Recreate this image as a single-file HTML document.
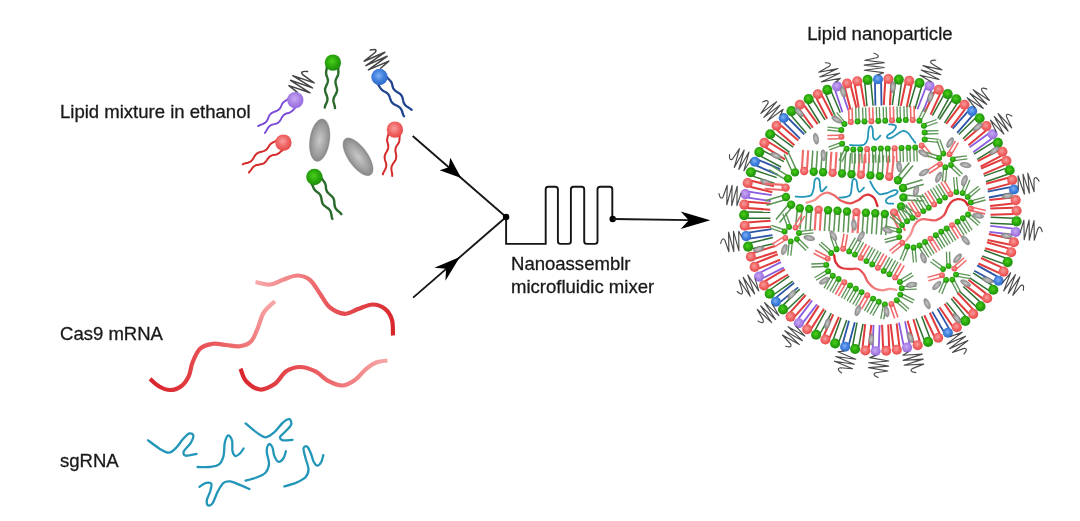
<!DOCTYPE html>
<html><head><meta charset="utf-8"><title>Lipid nanoparticle formulation</title>
<style>html,body{margin:0;padding:0;background:#fff}svg{display:block}</style></head>
<body><svg width="1080" height="521" viewBox="0 0 1080 521">
<defs>
<filter id="soft" x="0" y="0" width="100%" height="100%" filterUnits="userSpaceOnUse"><feGaussianBlur stdDeviation="0.55"/></filter>
<radialGradient id="gR" cx="45%" cy="42%" r="60%"><stop offset="0" stop-color="#f89d9d"/><stop offset="0.55" stop-color="#f06666"/><stop offset="1" stop-color="#e74747"/></radialGradient>
<radialGradient id="gG" cx="45%" cy="42%" r="60%"><stop offset="0" stop-color="#4ccf1a"/><stop offset="0.55" stop-color="#2aa80e"/><stop offset="1" stop-color="#1f8a0c"/></radialGradient>
<radialGradient id="gB" cx="45%" cy="42%" r="60%"><stop offset="0" stop-color="#7fb0f5"/><stop offset="0.55" stop-color="#3f80dd"/><stop offset="1" stop-color="#2f68c8"/></radialGradient>
<radialGradient id="gP" cx="45%" cy="42%" r="60%"><stop offset="0" stop-color="#c9aaf3"/><stop offset="0.55" stop-color="#a982e6"/><stop offset="1" stop-color="#9468dc"/></radialGradient>
<radialGradient id="gE" cx="50%" cy="50%" r="55%"><stop offset="0" stop-color="#c9c9c9"/><stop offset="0.7" stop-color="#9a9a9a"/><stop offset="1" stop-color="#7e7e7e"/></radialGradient>
<linearGradient id="m1" gradientUnits="userSpaceOnUse" x1="150" y1="380" x2="275" y2="301"><stop offset="0" stop-color="#d9262c"/><stop offset="0.5" stop-color="#ea5a5e"/><stop offset="1" stop-color="#f8a9a9"/></linearGradient>
<linearGradient id="m2" gradientUnits="userSpaceOnUse" x1="255" y1="282" x2="393" y2="330"><stop offset="0" stop-color="#f8a9a9"/><stop offset="0.5" stop-color="#ea5a5e"/><stop offset="1" stop-color="#d9262c"/></linearGradient>
<linearGradient id="m3" gradientUnits="userSpaceOnUse" x1="240" y1="370" x2="388" y2="362"><stop offset="0" stop-color="#d9262c"/><stop offset="0.5" stop-color="#ea5a5e"/><stop offset="1" stop-color="#f8a9a9"/></linearGradient>
</defs>
<g filter="url(#soft)">
<text x="60" y="117.8" font-family="Liberation Sans, Arial, sans-serif" font-size="18.55" fill="#1a1a1a" stroke="#1a1a1a" stroke-width="0.3" text-anchor="start">Lipid mixture in ethanol</text>
<text x="60" y="339.5" font-family="Liberation Sans, Arial, sans-serif" font-size="18.55" fill="#1a1a1a" stroke="#1a1a1a" stroke-width="0.3" text-anchor="start">Cas9 mRNA</text>
<text x="60" y="467.3" font-family="Liberation Sans, Arial, sans-serif" font-size="18.55" fill="#1a1a1a" stroke="#1a1a1a" stroke-width="0.3" text-anchor="start">sgRNA</text>
<text x="511" y="269.8" font-family="Liberation Sans, Arial, sans-serif" font-size="18.55" fill="#1a1a1a" stroke="#1a1a1a" stroke-width="0.3" text-anchor="start">Nanoassemblr</text>
<text x="511" y="292.8" font-family="Liberation Sans, Arial, sans-serif" font-size="18.55" fill="#1a1a1a" stroke="#1a1a1a" stroke-width="0.3" text-anchor="start">microfluidic mixer</text>
<text x="807.3" y="39.8" font-family="Liberation Sans, Arial, sans-serif" font-size="18.55" fill="#1a1a1a" stroke="#1a1a1a" stroke-width="0.3" text-anchor="start">Lipid nanoparticle</text>
<path d="M326.9,66.7 L326.8,67.7 L326.7,68.8 L326.5,69.8 L326.3,70.8 L326.1,71.8 L326.1,72.8 L326.1,73.8 L326.3,74.9 L326.6,75.9 L327.1,76.9 L327.4,78.0 L327.7,79.0 L327.9,80.0 L327.9,81.0 L327.7,82.0 L327.4,83.1 L327.0,84.1 L326.6,85.1 L326.1,86.1 L325.7,87.1 L325.3,88.1 L325.1,89.1 L325.1,90.1 L325.2,91.2 L325.4,92.2 L325.8,93.2 L326.2,94.2 L326.6,95.3 L327.0,96.3 L327.3,97.3 L327.4,98.4 L327.5,99.4 L327.3,100.4 L327.1,101.4 L326.7,102.4 L326.3,103.4 L325.8,104.4 L325.3,105.4 L325.0,106.5 L324.8,107.5" fill="none" stroke="#2a6a2c" stroke-width="2.4" stroke-linecap="round" stroke-linejoin="round" />
<path d="M338.3,67.5 L338.3,68.5 L338.3,69.5 L338.3,70.6 L338.4,71.6 L338.4,72.6 L338.3,73.6 L338.1,74.6 L337.8,75.6 L337.3,76.6 L336.8,77.6 L336.3,78.5 L335.9,79.5 L335.6,80.5 L335.5,81.5 L335.5,82.5 L335.6,83.6 L335.9,84.6 L336.2,85.7 L336.5,86.8 L336.8,87.8 L337.0,88.9 L337.1,89.9 L337.0,90.9 L336.8,91.9 L336.4,92.9 L335.9,93.9 L335.4,94.8 L334.8,95.8 L334.3,96.8 L333.9,97.8 L333.6,98.7 L333.4,99.8 L333.4,100.8 L333.5,101.8 L333.8,102.9 L334.1,103.9 L334.4,105.0 L334.7,106.1 L334.9,107.1 L335.0,108.1" fill="none" stroke="#2a6a2c" stroke-width="2.4" stroke-linecap="round" stroke-linejoin="round" />
<circle cx="332.9" cy="62.6" r="8.2" fill="url(#gG)"/>
<path d="M288.1,98.7 L287.4,99.4 L286.6,100.0 L285.7,100.6 L284.9,101.2 L284.0,101.8 L283.3,102.5 L282.6,103.2 L282.0,104.1 L281.6,105.1 L281.1,106.1 L280.7,107.1 L280.2,108.0 L279.5,108.8 L278.8,109.5 L278.0,110.2 L277.1,110.7 L276.1,111.1 L275.1,111.5 L274.0,111.9 L273.0,112.3 L272.1,112.8 L271.2,113.4 L270.5,114.1 L269.8,114.8 L269.3,115.7 L268.8,116.7 L268.4,117.7 L268.0,118.8 L267.5,119.7 L267.0,120.7 L266.4,121.5 L265.7,122.3 L264.9,122.9 L264.0,123.4 L263.1,123.9 L262.0,124.3 L261.0,124.7 L260.0,125.1 L259.0,125.6 L258.1,126.1" fill="none" stroke="#7a48d6" stroke-width="1.9" stroke-linecap="round" stroke-linejoin="round" />
<path d="M295.7,107.4 L294.9,108.0 L294.2,108.8 L293.5,109.5 L292.8,110.3 L292.1,111.0 L291.3,111.6 L290.5,112.2 L289.6,112.6 L288.6,113.0 L287.5,113.2 L286.5,113.5 L285.5,113.9 L284.6,114.4 L283.8,115.0 L283.1,115.7 L282.5,116.5 L281.9,117.4 L281.4,118.4 L280.8,119.4 L280.3,120.3 L279.7,121.2 L279.0,121.9 L278.3,122.6 L277.4,123.1 L276.4,123.5 L275.4,123.8 L274.4,124.1 L273.3,124.4 L272.3,124.7 L271.3,125.0 L270.4,125.5 L269.5,126.1 L268.8,126.8 L268.2,127.6 L267.6,128.5 L267.1,129.4 L266.5,130.4 L266.0,131.3 L265.4,132.2 L264.8,133.0" fill="none" stroke="#7a48d6" stroke-width="1.9" stroke-linecap="round" stroke-linejoin="round" />
<path d="M297.4,92.4 L288.9,85.6 L310.0,92.8 L290.5,80.3 L312.4,87.9 L292.8,75.6 L314.1,82.9 L302.7,74.7 Q299.4,70.5 307.6,71.6" fill="none" stroke="#444" stroke-width="1.5" stroke-linecap="round" stroke-linejoin="round"/>
<circle cx="295.3" cy="100.1" r="8.2" fill="url(#gP)"/>
<path d="M377.8,84.1 L378.4,84.9 L379.0,85.8 L379.5,86.7 L380.1,87.6 L380.7,88.4 L381.3,89.2 L382.1,90.0 L382.9,90.6 L383.8,91.2 L384.9,91.7 L385.8,92.2 L386.7,92.8 L387.5,93.4 L388.2,94.2 L388.8,95.1 L389.3,96.0 L389.7,97.1 L390.0,98.1 L390.4,99.2 L390.8,100.2 L391.2,101.2 L391.7,102.1 L392.4,102.9 L393.2,103.6 L394.0,104.3 L395.0,104.8 L396.0,105.3 L397.0,105.8 L398.0,106.3 L398.9,106.9 L399.7,107.5 L400.5,108.3 L401.1,109.1 L401.5,110.1 L402.0,111.1 L402.3,112.2 L402.7,113.2 L403.0,114.3 L403.4,115.3 L404.0,116.2" fill="none" stroke="#23458f" stroke-width="2.3" stroke-linecap="round" stroke-linejoin="round" />
<path d="M386.8,77.0 L387.4,77.8 L388.1,78.6 L388.9,79.3 L389.6,80.1 L390.3,80.8 L390.9,81.6 L391.5,82.5 L391.9,83.5 L392.2,84.5 L392.4,85.6 L392.7,86.7 L393.0,87.7 L393.5,88.7 L394.1,89.5 L394.8,90.3 L395.6,91.0 L396.5,91.6 L397.4,92.2 L398.4,92.8 L399.3,93.4 L400.2,94.0 L400.9,94.8 L401.5,95.6 L402.0,96.5 L402.4,97.5 L402.7,98.5 L403.0,99.6 L403.2,100.7 L403.5,101.8 L403.8,102.8 L404.2,103.8 L404.8,104.6 L405.5,105.4 L406.3,106.1 L407.1,106.7 L408.1,107.3 L409.0,107.9 L410.0,108.5 L410.8,109.2 L411.6,109.9" fill="none" stroke="#23458f" stroke-width="2.3" stroke-linecap="round" stroke-linejoin="round" />
<path d="M380.7,68.2 L388.8,61.1 L368.4,69.9 L387.1,56.3 L365.9,65.6 L384.8,52.3 L364.2,61.2 L375.1,52.5 Q378.2,48.2 370.2,50.1" fill="none" stroke="#444" stroke-width="1.5" stroke-linecap="round" stroke-linejoin="round"/>
<circle cx="379.5" cy="77.0" r="8.2" fill="url(#gB)"/>
<path d="M276.4,140.4 L275.6,141.0 L274.7,141.5 L273.8,142.0 L272.8,142.5 L271.9,143.0 L271.1,143.6 L270.3,144.3 L269.6,145.1 L269.0,146.0 L268.4,147.0 L267.8,147.9 L267.2,148.8 L266.5,149.5 L265.6,150.2 L264.7,150.7 L263.8,151.1 L262.7,151.4 L261.6,151.7 L260.5,151.9 L259.5,152.2 L258.4,152.6 L257.5,153.1 L256.7,153.7 L255.9,154.4 L255.2,155.2 L254.6,156.1 L254.1,157.1 L253.5,158.1 L252.9,159.0 L252.3,159.9 L251.6,160.7 L250.8,161.4 L249.9,161.9 L248.9,162.3 L247.9,162.7 L246.8,162.9 L245.7,163.2 L244.6,163.5 L243.6,163.9 L242.7,164.3" fill="none" stroke="#d42a2a" stroke-width="2.0" stroke-linecap="round" stroke-linejoin="round" />
<path d="M282.9,149.9 L282.1,150.5 L281.3,151.1 L280.5,151.8 L279.7,152.5 L278.9,153.1 L278.1,153.7 L277.2,154.2 L276.2,154.5 L275.1,154.8 L274.0,154.9 L273.0,155.1 L271.9,155.4 L271.0,155.8 L270.1,156.3 L269.3,157.0 L268.6,157.7 L267.9,158.6 L267.3,159.5 L266.6,160.4 L266.0,161.3 L265.3,162.1 L264.5,162.8 L263.6,163.4 L262.7,163.8 L261.7,164.1 L260.6,164.3 L259.5,164.5 L258.4,164.7 L257.4,164.9 L256.3,165.1 L255.4,165.5 L254.5,166.0 L253.6,166.6 L252.9,167.4 L252.2,168.2 L251.6,169.1 L251.0,170.0 L250.3,170.9 L249.6,171.7 L248.9,172.5" fill="none" stroke="#d42a2a" stroke-width="2.0" stroke-linecap="round" stroke-linejoin="round" />
<circle cx="283.4" cy="142.6" r="8.2" fill="url(#gR)"/>
<path d="M388.5,133.1 L388.4,134.2 L388.1,135.2 L387.8,136.2 L387.6,137.2 L387.3,138.2 L387.2,139.3 L387.1,140.3 L387.2,141.4 L387.5,142.4 L387.8,143.5 L388.1,144.6 L388.2,145.7 L388.3,146.7 L388.2,147.7 L388.0,148.8 L387.6,149.8 L387.1,150.8 L386.6,151.8 L386.0,152.7 L385.5,153.7 L385.1,154.7 L384.8,155.7 L384.6,156.8 L384.6,157.8 L384.8,158.9 L385.0,160.0 L385.3,161.0 L385.7,162.1 L386.0,163.2 L386.2,164.3 L386.3,165.3 L386.2,166.4 L386.0,167.4 L385.6,168.4 L385.2,169.4 L384.6,170.4 L384.1,171.4 L383.5,172.4 L383.1,173.4 L382.8,174.4" fill="none" stroke="#d42a2a" stroke-width="2.0" stroke-linecap="round" stroke-linejoin="round" />
<path d="M399.8,135.0 L399.7,136.0 L399.6,137.0 L399.5,138.1 L399.5,139.1 L399.4,140.2 L399.2,141.2 L398.9,142.2 L398.4,143.2 L397.9,144.1 L397.2,145.0 L396.6,146.0 L396.1,146.9 L395.7,147.9 L395.5,148.9 L395.4,150.0 L395.4,151.0 L395.6,152.1 L395.8,153.2 L396.0,154.3 L396.2,155.4 L396.2,156.5 L396.2,157.6 L396.0,158.6 L395.7,159.6 L395.2,160.6 L394.6,161.5 L394.0,162.4 L393.3,163.3 L392.7,164.3 L392.2,165.2 L391.8,166.2 L391.5,167.2 L391.4,168.2 L391.4,169.3 L391.5,170.4 L391.7,171.5 L391.9,172.6 L392.1,173.7 L392.2,174.8 L392.2,175.9" fill="none" stroke="#d42a2a" stroke-width="2.0" stroke-linecap="round" stroke-linejoin="round" />
<circle cx="394.9" cy="129.6" r="8.2" fill="url(#gR)"/>
<path d="M311.6,183.8 L312.1,184.6 L312.6,185.6 L313.0,186.5 L313.4,187.5 L313.8,188.4 L314.3,189.3 L314.9,190.1 L315.7,190.9 L316.5,191.5 L317.4,192.2 L318.3,192.8 L319.1,193.5 L319.8,194.3 L320.3,195.1 L320.8,196.1 L321.1,197.1 L321.3,198.1 L321.5,199.2 L321.7,200.3 L321.9,201.4 L322.2,202.4 L322.5,203.4 L323.1,204.3 L323.7,205.1 L324.5,205.8 L325.3,206.4 L326.2,207.1 L327.1,207.7 L328.0,208.3 L328.8,209.0 L329.6,209.8 L330.1,210.6 L330.6,211.5 L330.9,212.5 L331.2,213.6 L331.4,214.7 L331.5,215.8 L331.7,216.8 L332.0,217.9 L332.4,218.9" fill="none" stroke="#2a6a2c" stroke-width="2.4" stroke-linecap="round" stroke-linejoin="round" />
<path d="M321.6,178.1 L322.1,179.0 L322.7,179.8 L323.3,180.7 L323.9,181.5 L324.5,182.4 L325.0,183.3 L325.4,184.2 L325.7,185.3 L325.9,186.3 L325.9,187.4 L326.0,188.5 L326.2,189.6 L326.6,190.6 L327.0,191.5 L327.6,192.4 L328.3,193.2 L329.1,193.9 L330.0,194.6 L330.8,195.4 L331.6,196.1 L332.4,196.9 L333.0,197.7 L333.5,198.6 L333.9,199.6 L334.1,200.6 L334.3,201.7 L334.3,202.8 L334.4,203.9 L334.5,205.0 L334.7,206.1 L335.0,207.1 L335.4,208.0 L336.0,208.9 L336.7,209.7 L337.4,210.5 L338.3,211.2 L339.2,211.9 L340.0,212.6 L340.7,213.4 L341.4,214.2" fill="none" stroke="#2a6a2c" stroke-width="2.4" stroke-linecap="round" stroke-linejoin="round" />
<circle cx="314.4" cy="177.0" r="8.2" fill="url(#gG)"/>
<ellipse cx="0" cy="0" rx="9.8" ry="21.3" fill="url(#gE)" stroke="#858585" stroke-width="0.5" transform="translate(319.7,140.2) rotate(8.0)"/>
<ellipse cx="0" cy="0" rx="9.6" ry="22.0" fill="url(#gE)" stroke="#858585" stroke-width="0.5" transform="translate(358.0,156.8) rotate(-35.5)"/>
<line x1="412.7" y1="136" x2="506.1" y2="217" stroke="#141414" stroke-width="1.85"/>
<line x1="413.1" y1="297.6" x2="506.1" y2="217" stroke="#141414" stroke-width="1.85"/>
<polygon points="461.2,178.1 439.6,170.2 448.7,167.3 450.3,157.8" fill="#000"/>
<polygon points="459.9,256.9 445.4,280.7 446.1,268.8 434.3,267.8" fill="#000"/>
<path d="M506.1,217 L506.1,243.9 L545.7,243.9 L545.7,189.4 Q545.7,186.8 548.3000000000001,186.8 L555.3,186.8 Q557.9,186.8 557.9,189.4 L557.9,241.3 Q557.9,243.9 560.5,243.9 L568.3,243.9 Q570.9,243.9 570.9,241.3 L570.9,189.4 Q570.9,186.8 573.5,186.8 L581.6,186.8 Q584.2,186.8 584.2,189.4 L584.2,241.3 Q584.2,243.9 586.8000000000001,243.9 L594.9,243.9 Q597.5,243.9 597.5,241.3 L597.5,189.4 Q597.5,186.8 600.1,186.8 L609.6999999999999,186.8 Q612.3,186.8 612.3,189.4 L612.3,219" fill="none" stroke="#141414" stroke-width="1.9" stroke-linejoin="miter"/>
<circle cx="506.1" cy="217" r="3.2" fill="#000"/>
<circle cx="612.7" cy="219" r="3.2" fill="#000"/>
<line x1="612.7" y1="219" x2="690" y2="220.2" stroke="#141414" stroke-width="1.85"/>
<polygon points="710.3,220.2 680.7,228.9 688.8,220.2 680.7,211.5" fill="#000"/>
<path d="M150.0,378.8 C151.5,380.0 155.4,384.4 158.8,386.2 C162.1,388.1 166.2,390.0 170.0,390.0 C173.8,390.0 178.1,388.5 181.2,386.2 C184.4,384.0 186.9,380.2 188.8,376.2 C190.6,372.3 190.6,367.1 192.5,362.5 C194.4,357.9 196.7,351.9 200.0,348.8 C203.3,345.6 208.1,344.4 212.5,343.8 C216.9,343.1 221.7,344.6 226.2,345.0 C230.8,345.4 235.8,346.9 240.0,346.2 C244.2,345.6 248.3,344.2 251.2,341.2 C254.2,338.3 255.4,333.5 257.5,328.8 C259.6,324.0 260.8,317.1 263.8,312.5 C266.7,307.9 273.1,303.1 275.0,301.2 " fill="none" stroke="url(#m1)" stroke-width="4.2" stroke-linecap="butt"/>
<path d="M255.5,282.0 C257.9,282.4 265.3,284.9 270.0,284.5 C274.7,284.1 279.2,281.0 283.8,279.5 C288.3,278.0 293.1,275.4 297.5,275.5 C301.9,275.6 306.2,277.0 310.0,280.0 C313.8,283.0 316.7,289.2 320.0,293.8 C323.3,298.3 325.8,304.2 330.0,307.5 C334.2,310.8 340.2,313.5 345.0,313.8 C349.8,314.0 354.2,310.3 358.8,308.8 C363.3,307.2 368.1,304.5 372.5,304.5 C376.9,304.5 381.8,306.2 385.0,308.8 C388.2,311.3 390.7,315.5 392.0,320.0 C393.3,324.5 392.8,332.9 393.0,335.5 " fill="none" stroke="url(#m2)" stroke-width="4.2" stroke-linecap="butt"/>
<path d="M240.5,368.8 C241.5,370.8 243.0,377.8 246.2,381.2 C249.5,384.7 255.2,389.1 260.0,389.5 C264.8,389.9 270.6,386.8 275.0,383.8 C279.4,380.7 282.1,374.0 286.2,371.2 C290.4,368.5 295.2,367.0 300.0,367.0 C304.8,367.0 310.2,368.9 315.0,371.2 C319.8,373.6 324.2,378.9 328.8,381.2 C333.3,383.6 338.1,385.7 342.5,385.5 C346.9,385.3 351.0,382.8 355.0,380.0 C359.0,377.2 362.7,371.7 366.2,368.8 C369.8,365.8 372.7,363.9 376.2,362.5 C379.8,361.1 385.6,360.8 387.5,360.5 " fill="none" stroke="url(#m3)" stroke-width="4.2" stroke-linecap="butt"/>
<path d="M148.1,440.3 C149.9,441.7 155.7,446.3 159.2,448.4 C162.6,450.4 165.9,452.8 168.8,452.6 C171.7,452.5 174.1,449.7 176.5,447.4 C178.9,445.1 181.0,441.1 183.2,438.8 C185.4,436.5 187.8,433.9 189.5,433.4 C191.2,432.9 193.2,434.2 193.4,435.9 C193.5,437.6 191.9,441.0 190.3,443.6 C188.7,446.1 184.5,449.3 183.8,451.3 C183.0,453.3 183.5,455.3 185.7,455.7 C187.8,456.1 194.8,454.1 196.6,453.8 " fill="none" stroke="#2396b8" stroke-width="2.3" stroke-linecap="round"/>
<path d="M197.6,467.0 C199.5,467.0 205.6,467.4 209.1,467.0 C212.6,466.6 216.3,466.5 218.7,464.7 C221.1,462.9 222.5,459.7 223.5,456.1 C224.5,452.4 224.0,446.1 224.8,442.6 C225.6,439.2 227.1,435.7 228.3,435.3 C229.5,435.0 231.4,438.1 232.1,440.7 C232.8,443.4 231.9,448.7 232.5,451.3 C233.1,453.8 234.3,455.7 235.6,456.1 C236.9,456.4 238.8,454.5 240.2,453.2 C241.5,451.9 243.1,449.2 243.6,448.4 " fill="none" stroke="#2396b8" stroke-width="2.3" stroke-linecap="round"/>
<path d="M245.6,423.4 C247.3,424.9 252.8,429.8 256.1,432.1 C259.5,434.4 262.7,437.3 265.7,437.3 C268.8,437.3 271.5,434.5 274.4,432.1 C277.2,429.6 280.5,424.6 283.0,422.5 C285.5,420.3 288.0,418.9 289.3,419.2 C290.7,419.5 291.8,422.4 291.2,424.4 C290.7,426.4 287.7,429.0 285.9,431.1 C284.0,433.2 280.6,435.3 280.1,436.9 C279.6,438.4 280.9,439.8 283.0,440.3 C285.1,440.8 291.0,439.8 292.6,439.8 " fill="none" stroke="#2396b8" stroke-width="2.3" stroke-linecap="round"/>
<path d="M245.6,480.6 C247.5,480.1 253.7,478.6 257.1,477.2 C260.4,475.8 263.7,474.6 265.7,472.4 C267.7,470.1 268.8,467.3 269.0,463.7 C269.1,460.2 266.7,454.5 266.7,451.3 C266.7,448.0 268.0,444.8 269.0,444.2 C269.9,443.5 271.5,445.4 272.4,447.4 C273.3,449.4 273.3,453.7 274.4,456.1 C275.4,458.5 277.0,461.5 278.6,461.8 C280.1,462.1 282.4,459.7 283.6,458.0 C284.8,456.2 285.5,452.4 285.9,451.3 " fill="none" stroke="#2396b8" stroke-width="2.3" stroke-linecap="round"/>
<path d="M284.3,486.4 C286.4,485.8 292.9,484.1 296.4,482.6 C299.9,481.0 303.4,479.4 305.5,477.2 C307.5,475.0 308.5,472.7 308.5,469.5 C308.5,466.3 306.3,461.5 305.5,458.0 C304.6,454.5 303.3,450.3 303.5,448.4 C303.8,446.5 305.8,445.7 307.0,446.5 C308.2,447.3 309.7,450.6 310.8,453.2 C311.9,455.7 312.6,459.7 313.7,461.8 C314.8,463.9 316.3,465.7 317.5,465.7 C318.8,465.7 320.4,463.6 321.4,461.8 C322.3,460.1 323.0,456.2 323.3,455.1 " fill="none" stroke="#2396b8" stroke-width="2.3" stroke-linecap="round"/>
<path d="M199.5,486.8 C200.6,486.1 204.2,483.4 206.2,482.9 C208.2,482.5 210.8,482.5 211.4,483.9 C212.0,485.3 210.8,488.9 210.1,491.6 C209.3,494.3 207.1,497.9 206.8,500.2 C206.5,502.5 207.2,504.9 208.1,505.4 C209.1,505.9 211.0,505.4 212.6,503.1 C214.2,500.8 215.9,494.9 217.7,491.6 C219.6,488.2 221.4,484.6 223.5,482.9 C225.6,481.2 227.5,481.1 230.2,481.4 C232.9,481.7 236.6,483.6 239.8,484.9 C243.0,486.1 247.8,488.4 249.4,489.1 " fill="none" stroke="#2396b8" stroke-width="2.3" stroke-linecap="round"/>
<line x1="881.1" y1="82.3" x2="881.5" y2="105.5" stroke="#2c55a8" stroke-width="1.80"/>
<line x1="875.0" y1="82.4" x2="875.4" y2="105.6" stroke="#2c55a8" stroke-width="1.80"/>
<circle cx="878.0" cy="79.3" r="5.05" fill="url(#gB)"/>
<path d="M877.9,74.9 L883.6,72.6 L864.3,70.3 L884.3,67.5 L864.2,65.1 L884.2,62.6 L864.8,60.2 L876.7,57.8 Q880.9,55.5 874.0,53.2" fill="none" stroke="#4a4a4a" stroke-width="1.15" stroke-linecap="round" stroke-linejoin="round"/>
<line x1="891.3" y1="82.2" x2="889.9" y2="105.4" stroke="#e23b3b" stroke-width="2.00"/>
<line x1="885.2" y1="81.9" x2="883.8" y2="105.0" stroke="#e23b3b" stroke-width="2.00"/>
<circle cx="888.4" cy="79.0" r="5.05" fill="url(#gR)"/>
<line x1="901.4" y1="83.0" x2="898.3" y2="105.9" stroke="#2f7030" stroke-width="1.50"/>
<line x1="895.4" y1="82.2" x2="892.3" y2="105.1" stroke="#2f7030" stroke-width="1.50"/>
<circle cx="898.8" cy="79.6" r="5.05" fill="url(#gG)"/>
<line x1="911.6" y1="84.5" x2="906.7" y2="107.1" stroke="#e23b3b" stroke-width="2.00"/>
<line x1="905.6" y1="83.2" x2="900.8" y2="105.9" stroke="#e23b3b" stroke-width="2.00"/>
<circle cx="909.2" cy="80.9" r="5.05" fill="url(#gR)"/>
<line x1="921.6" y1="86.8" x2="915.0" y2="109.0" stroke="#2f7030" stroke-width="1.50"/>
<line x1="915.7" y1="85.0" x2="909.2" y2="107.3" stroke="#2f7030" stroke-width="1.50"/>
<circle cx="919.5" cy="83.0" r="5.05" fill="url(#gG)"/>
<line x1="931.4" y1="89.8" x2="923.2" y2="111.5" stroke="#8a5be0" stroke-width="1.80"/>
<line x1="925.7" y1="87.7" x2="917.5" y2="109.3" stroke="#8a5be0" stroke-width="1.80"/>
<circle cx="929.6" cy="85.9" r="5.05" fill="url(#gP)"/>
<path d="M931.2,81.8 L920.1,75.2 L939.0,79.5 L921.2,70.1 L940.9,74.7 L922.9,65.6 L942.0,69.9 L931.6,63.6 Q928.4,60.0 935.7,60.2" fill="none" stroke="#4a4a4a" stroke-width="1.15" stroke-linecap="round" stroke-linejoin="round"/>
<line x1="940.3" y1="93.7" x2="930.6" y2="114.7" stroke="#e23b3b" stroke-width="2.00"/>
<line x1="934.8" y1="91.2" x2="925.0" y2="112.2" stroke="#e23b3b" stroke-width="2.00"/>
<circle cx="938.8" cy="89.7" r="5.05" fill="url(#gR)"/>
<line x1="948.9" y1="98.2" x2="937.7" y2="118.5" stroke="#2f7030" stroke-width="1.50"/>
<line x1="943.6" y1="95.3" x2="932.4" y2="115.6" stroke="#2f7030" stroke-width="1.50"/>
<circle cx="947.7" cy="94.1" r="5.05" fill="url(#gG)"/>
<line x1="957.2" y1="103.4" x2="944.5" y2="122.8" stroke="#2f7030" stroke-width="1.50"/>
<line x1="952.1" y1="100.0" x2="939.4" y2="119.5" stroke="#2f7030" stroke-width="1.50"/>
<circle cx="956.3" cy="99.2" r="5.05" fill="url(#gG)"/>
<line x1="965.1" y1="109.1" x2="951.1" y2="127.6" stroke="#e23b3b" stroke-width="2.00"/>
<line x1="960.2" y1="105.4" x2="946.2" y2="123.9" stroke="#e23b3b" stroke-width="2.00"/>
<circle cx="964.5" cy="104.8" r="5.05" fill="url(#gR)"/>
<line x1="972.5" y1="115.4" x2="957.2" y2="132.8" stroke="#2c55a8" stroke-width="1.80"/>
<line x1="967.9" y1="111.3" x2="952.7" y2="128.7" stroke="#2c55a8" stroke-width="1.80"/>
<circle cx="972.2" cy="111.1" r="5.05" fill="url(#gB)"/>
<path d="M975.1,107.8 L967.1,97.7 L983.3,108.4 L969.9,93.3 L986.7,104.5 L973.1,89.7 L989.4,100.4 L981.9,90.9 Q980.2,86.4 986.9,89.1" fill="none" stroke="#4a4a4a" stroke-width="1.15" stroke-linecap="round" stroke-linejoin="round"/>
<line x1="979.6" y1="122.6" x2="963.0" y2="138.8" stroke="#2f7030" stroke-width="1.50"/>
<line x1="975.3" y1="118.3" x2="958.8" y2="134.5" stroke="#2f7030" stroke-width="1.50"/>
<circle cx="979.6" cy="118.3" r="5.05" fill="url(#gG)"/>
<line x1="986.1" y1="130.4" x2="968.4" y2="145.3" stroke="#e23b3b" stroke-width="2.00"/>
<line x1="982.1" y1="125.7" x2="964.4" y2="140.7" stroke="#e23b3b" stroke-width="2.00"/>
<circle cx="986.4" cy="126.1" r="5.05" fill="url(#gR)"/>
<line x1="991.9" y1="138.6" x2="973.2" y2="152.2" stroke="#8a5be0" stroke-width="1.80"/>
<line x1="988.4" y1="133.7" x2="969.6" y2="147.2" stroke="#8a5be0" stroke-width="1.80"/>
<circle cx="992.6" cy="134.3" r="5.05" fill="url(#gP)"/>
<path d="M996.2,131.8 L990.5,120.2 L1004.0,134.2 L994.2,116.5 L1008.1,131.1 L998.2,113.6 L1011.7,127.8 L1006.5,116.8 Q1005.8,112.1 1011.8,116.1" fill="none" stroke="#4a4a4a" stroke-width="1.15" stroke-linecap="round" stroke-linejoin="round"/>
<line x1="996.9" y1="147.1" x2="977.2" y2="159.3" stroke="#2f7030" stroke-width="1.50"/>
<line x1="993.7" y1="141.9" x2="974.0" y2="154.1" stroke="#2f7030" stroke-width="1.50"/>
<circle cx="997.8" cy="142.9" r="5.05" fill="url(#gG)"/>
<line x1="1001.2" y1="155.9" x2="980.6" y2="166.6" stroke="#e23b3b" stroke-width="2.00"/>
<line x1="998.3" y1="150.5" x2="977.8" y2="161.2" stroke="#e23b3b" stroke-width="2.00"/>
<circle cx="1002.4" cy="151.8" r="5.05" fill="url(#gR)"/>
<line x1="1004.8" y1="164.9" x2="983.5" y2="174.1" stroke="#e23b3b" stroke-width="2.00"/>
<line x1="1002.4" y1="159.3" x2="981.1" y2="168.5" stroke="#e23b3b" stroke-width="2.00"/>
<circle cx="1006.4" cy="160.9" r="5.05" fill="url(#gR)"/>
<line x1="1007.8" y1="174.2" x2="985.9" y2="181.8" stroke="#2f7030" stroke-width="1.50"/>
<line x1="1005.7" y1="168.4" x2="983.9" y2="176.1" stroke="#2f7030" stroke-width="1.50"/>
<circle cx="1009.6" cy="170.3" r="5.05" fill="url(#gG)"/>
<line x1="1010.0" y1="183.6" x2="987.7" y2="189.6" stroke="#e23b3b" stroke-width="2.00"/>
<line x1="1008.4" y1="177.7" x2="986.1" y2="183.8" stroke="#e23b3b" stroke-width="2.00"/>
<circle cx="1012.2" cy="179.9" r="5.05" fill="url(#gR)"/>
<line x1="1011.6" y1="193.1" x2="988.9" y2="197.5" stroke="#2c55a8" stroke-width="1.80"/>
<line x1="1010.4" y1="187.1" x2="987.7" y2="191.6" stroke="#2c55a8" stroke-width="1.80"/>
<circle cx="1014.0" cy="189.5" r="5.05" fill="url(#gB)"/>
<path d="M1018.3,188.7 L1018.1,175.8 L1024.4,194.2 L1023.0,174.1 L1029.4,193.2 L1027.8,173.1 L1034.1,191.7 L1034.0,179.5 Q1035.4,174.9 1039.1,181.1" fill="none" stroke="#4a4a4a" stroke-width="1.15" stroke-linecap="round" stroke-linejoin="round"/>
<line x1="1013.0" y1="203.4" x2="990.0" y2="206.1" stroke="#e23b3b" stroke-width="2.00"/>
<line x1="1012.3" y1="197.4" x2="989.3" y2="200.0" stroke="#e23b3b" stroke-width="2.00"/>
<circle cx="1015.7" cy="200.1" r="5.05" fill="url(#gR)"/>
<line x1="1013.6" y1="213.9" x2="990.5" y2="214.7" stroke="#e23b3b" stroke-width="2.00"/>
<line x1="1013.4" y1="207.8" x2="990.3" y2="208.6" stroke="#e23b3b" stroke-width="2.00"/>
<circle cx="1016.6" cy="210.7" r="5.05" fill="url(#gR)"/>
<line x1="1013.4" y1="224.3" x2="990.3" y2="223.3" stroke="#2f7030" stroke-width="1.50"/>
<line x1="1013.7" y1="218.2" x2="990.6" y2="217.2" stroke="#2f7030" stroke-width="1.50"/>
<circle cx="1016.6" cy="221.4" r="5.05" fill="url(#gG)"/>
<line x1="1012.4" y1="234.7" x2="989.4" y2="231.9" stroke="#8a5be0" stroke-width="1.80"/>
<line x1="1013.2" y1="228.6" x2="990.2" y2="225.8" stroke="#8a5be0" stroke-width="1.80"/>
<circle cx="1015.8" cy="232.0" r="5.05" fill="url(#gP)"/>
<path d="M1020.2,232.5 L1023.9,220.2 L1024.2,239.6 L1029.1,220.0 L1029.3,240.2 L1034.0,220.6 L1034.3,240.2 L1037.9,228.6 Q1040.6,224.7 1042.2,231.7" fill="none" stroke="#4a4a4a" stroke-width="1.15" stroke-linecap="round" stroke-linejoin="round"/>
<line x1="1010.3" y1="244.7" x2="987.6" y2="240.1" stroke="#e23b3b" stroke-width="2.00"/>
<line x1="1011.5" y1="238.7" x2="988.8" y2="234.1" stroke="#e23b3b" stroke-width="2.00"/>
<circle cx="1013.9" cy="242.3" r="5.05" fill="url(#gR)"/>
<line x1="1007.4" y1="254.4" x2="985.1" y2="248.2" stroke="#e23b3b" stroke-width="2.00"/>
<line x1="1009.1" y1="248.6" x2="986.8" y2="242.3" stroke="#e23b3b" stroke-width="2.00"/>
<circle cx="1011.2" cy="252.3" r="5.05" fill="url(#gR)"/>
<line x1="1003.9" y1="263.9" x2="982.1" y2="256.0" stroke="#2f7030" stroke-width="1.50"/>
<line x1="1006.0" y1="258.2" x2="984.2" y2="250.2" stroke="#2f7030" stroke-width="1.50"/>
<circle cx="1007.7" cy="262.1" r="5.05" fill="url(#gG)"/>
<line x1="999.5" y1="273.1" x2="978.5" y2="263.5" stroke="#e23b3b" stroke-width="2.00"/>
<line x1="1002.1" y1="267.6" x2="981.0" y2="258.0" stroke="#e23b3b" stroke-width="2.00"/>
<circle cx="1003.6" cy="271.6" r="5.05" fill="url(#gR)"/>
<line x1="994.6" y1="281.9" x2="974.3" y2="270.8" stroke="#2c55a8" stroke-width="1.80"/>
<line x1="997.5" y1="276.6" x2="977.2" y2="265.4" stroke="#2c55a8" stroke-width="1.80"/>
<circle cx="998.7" cy="280.7" r="5.05" fill="url(#gB)"/>
<path d="M1002.5,282.9 L1010.6,272.8 L1003.7,290.9 L1015.5,274.6 L1008.2,293.4 L1019.8,277.0 L1012.8,295.3 L1020.5,285.8 Q1024.5,283.2 1023.3,290.3" fill="none" stroke="#4a4a4a" stroke-width="1.15" stroke-linecap="round" stroke-linejoin="round"/>
<line x1="989.1" y1="290.6" x2="969.7" y2="277.9" stroke="#2f7030" stroke-width="1.50"/>
<line x1="992.4" y1="285.5" x2="973.1" y2="272.8" stroke="#2f7030" stroke-width="1.50"/>
<circle cx="993.3" cy="289.8" r="5.05" fill="url(#gG)"/>
<line x1="983.0" y1="298.9" x2="964.6" y2="284.7" stroke="#e23b3b" stroke-width="2.00"/>
<line x1="986.7" y1="294.1" x2="968.4" y2="279.8" stroke="#e23b3b" stroke-width="2.00"/>
<circle cx="987.2" cy="298.3" r="5.05" fill="url(#gR)"/>
<line x1="976.2" y1="306.6" x2="959.1" y2="291.0" stroke="#2f7030" stroke-width="1.50"/>
<line x1="980.3" y1="302.1" x2="963.2" y2="286.5" stroke="#2f7030" stroke-width="1.50"/>
<circle cx="980.5" cy="306.4" r="5.05" fill="url(#gG)"/>
<line x1="968.9" y1="313.8" x2="953.0" y2="296.9" stroke="#e23b3b" stroke-width="2.00"/>
<line x1="973.3" y1="309.6" x2="957.4" y2="292.8" stroke="#e23b3b" stroke-width="2.00"/>
<circle cx="973.2" cy="313.9" r="5.05" fill="url(#gR)"/>
<line x1="961.0" y1="320.4" x2="946.5" y2="302.4" stroke="#2f7030" stroke-width="1.50"/>
<line x1="965.7" y1="316.6" x2="951.2" y2="298.5" stroke="#2f7030" stroke-width="1.50"/>
<circle cx="965.3" cy="320.9" r="5.05" fill="url(#gG)"/>
<line x1="952.6" y1="326.4" x2="939.5" y2="307.3" stroke="#e23b3b" stroke-width="2.00"/>
<line x1="957.6" y1="322.9" x2="944.6" y2="303.8" stroke="#e23b3b" stroke-width="2.00"/>
<circle cx="956.8" cy="327.2" r="5.05" fill="url(#gR)"/>
<line x1="943.8" y1="331.7" x2="932.2" y2="311.6" stroke="#2c55a8" stroke-width="1.80"/>
<line x1="949.1" y1="328.6" x2="937.5" y2="308.6" stroke="#2c55a8" stroke-width="1.80"/>
<circle cx="947.9" cy="332.8" r="5.05" fill="url(#gB)"/>
<path d="M950.1,336.6 L962.2,332.2 L946.9,344.1 L965.5,336.2 L949.5,348.6 L967.9,340.5 L952.5,352.5 L964.0,348.4 Q968.7,348.2 964.0,353.8" fill="none" stroke="#4a4a4a" stroke-width="1.15" stroke-linecap="round" stroke-linejoin="round"/>
<line x1="934.2" y1="336.3" x2="924.3" y2="315.3" stroke="#e23b3b" stroke-width="2.00"/>
<line x1="939.7" y1="333.7" x2="929.8" y2="312.7" stroke="#e23b3b" stroke-width="2.00"/>
<circle cx="938.2" cy="337.7" r="5.05" fill="url(#gR)"/>
<line x1="924.2" y1="340.1" x2="916.0" y2="318.4" stroke="#2f7030" stroke-width="1.50"/>
<line x1="929.9" y1="338.0" x2="921.7" y2="316.3" stroke="#2f7030" stroke-width="1.50"/>
<circle cx="928.1" cy="341.9" r="5.05" fill="url(#gG)"/>
<line x1="914.0" y1="343.1" x2="907.6" y2="320.8" stroke="#e23b3b" stroke-width="2.00"/>
<line x1="919.8" y1="341.4" x2="913.4" y2="319.2" stroke="#e23b3b" stroke-width="2.00"/>
<circle cx="917.7" cy="345.2" r="5.05" fill="url(#gR)"/>
<line x1="903.6" y1="345.3" x2="899.0" y2="322.6" stroke="#8a5be0" stroke-width="1.80"/>
<line x1="909.5" y1="344.1" x2="905.0" y2="321.4" stroke="#8a5be0" stroke-width="1.80"/>
<circle cx="907.1" cy="347.6" r="5.05" fill="url(#gP)"/>
<path d="M908.0,352.0 L902.9,355.2 L922.2,354.1 L903.1,360.4 L923.2,359.1 L904.1,365.2 L923.6,364.1 L912.3,368.6 Q908.6,371.6 915.8,372.6" fill="none" stroke="#4a4a4a" stroke-width="1.15" stroke-linecap="round" stroke-linejoin="round"/>
<line x1="893.4" y1="347.0" x2="890.6" y2="324.0" stroke="#e23b3b" stroke-width="2.00"/>
<line x1="899.4" y1="346.3" x2="896.6" y2="323.3" stroke="#e23b3b" stroke-width="2.00"/>
<circle cx="896.8" cy="349.7" r="5.05" fill="url(#gR)"/>
<line x1="883.1" y1="347.9" x2="882.1" y2="324.8" stroke="#e23b3b" stroke-width="2.00"/>
<line x1="889.2" y1="347.7" x2="888.2" y2="324.5" stroke="#e23b3b" stroke-width="2.00"/>
<circle cx="886.2" cy="350.8" r="5.05" fill="url(#gR)"/>
<line x1="872.7" y1="348.1" x2="873.5" y2="324.9" stroke="#8a5be0" stroke-width="1.80"/>
<line x1="878.8" y1="348.3" x2="879.6" y2="325.1" stroke="#8a5be0" stroke-width="1.80"/>
<circle cx="875.6" cy="351.2" r="5.05" fill="url(#gP)"/>
<path d="M875.5,355.6 L869.7,357.6 L888.8,361.0 L868.7,362.7 L888.6,366.1 L868.5,367.6 L887.8,371.0 L875.7,372.8 Q871.5,374.8 878.2,377.5" fill="none" stroke="#4a4a4a" stroke-width="1.15" stroke-linecap="round" stroke-linejoin="round"/>
<line x1="862.6" y1="347.2" x2="865.2" y2="324.1" stroke="#e23b3b" stroke-width="2.00"/>
<line x1="868.7" y1="347.8" x2="871.3" y2="324.8" stroke="#e23b3b" stroke-width="2.00"/>
<circle cx="865.3" cy="350.5" r="5.05" fill="url(#gR)"/>
<line x1="852.7" y1="345.5" x2="857.0" y2="322.7" stroke="#2f7030" stroke-width="1.50"/>
<line x1="858.7" y1="346.6" x2="863.0" y2="323.9" stroke="#2f7030" stroke-width="1.50"/>
<circle cx="855.1" cy="349.0" r="5.05" fill="url(#gG)"/>
<line x1="842.9" y1="343.1" x2="849.0" y2="320.7" stroke="#2c55a8" stroke-width="1.80"/>
<line x1="848.8" y1="344.7" x2="854.8" y2="322.3" stroke="#2c55a8" stroke-width="1.80"/>
<circle cx="845.1" cy="346.8" r="5.05" fill="url(#gB)"/>
<path d="M843.9,351.1 L837.8,351.7 L855.7,359.3 L835.7,356.5 L854.3,364.3 L834.5,361.2 L852.5,368.8 L840.3,367.8 Q835.7,368.9 841.6,373.0" fill="none" stroke="#4a4a4a" stroke-width="1.15" stroke-linecap="round" stroke-linejoin="round"/>
<line x1="833.2" y1="339.7" x2="841.0" y2="317.8" stroke="#2f7030" stroke-width="1.50"/>
<line x1="839.0" y1="341.7" x2="846.7" y2="319.9" stroke="#2f7030" stroke-width="1.50"/>
<circle cx="835.1" cy="343.5" r="5.05" fill="url(#gG)"/>
<line x1="823.9" y1="335.5" x2="833.3" y2="314.3" stroke="#e23b3b" stroke-width="2.00"/>
<line x1="829.5" y1="338.0" x2="838.9" y2="316.8" stroke="#e23b3b" stroke-width="2.00"/>
<circle cx="825.4" cy="339.5" r="5.05" fill="url(#gR)"/>
<line x1="814.9" y1="330.6" x2="825.9" y2="310.3" stroke="#2f7030" stroke-width="1.50"/>
<line x1="820.2" y1="333.5" x2="831.3" y2="313.1" stroke="#2f7030" stroke-width="1.50"/>
<circle cx="816.1" cy="334.8" r="5.05" fill="url(#gG)"/>
<line x1="806.3" y1="325.1" x2="818.8" y2="305.6" stroke="#e23b3b" stroke-width="2.00"/>
<line x1="811.4" y1="328.4" x2="824.0" y2="308.9" stroke="#e23b3b" stroke-width="2.00"/>
<circle cx="807.2" cy="329.3" r="5.05" fill="url(#gR)"/>
<line x1="798.2" y1="318.9" x2="812.2" y2="300.5" stroke="#8a5be0" stroke-width="1.80"/>
<line x1="803.0" y1="322.6" x2="817.0" y2="304.2" stroke="#8a5be0" stroke-width="1.80"/>
<circle cx="798.8" cy="323.2" r="5.05" fill="url(#gP)"/>
<path d="M796.1,326.7 L804.9,336.1 L788.0,326.7 L802.4,340.7 L784.8,330.8 L799.4,344.6 L782.4,335.0 L790.6,344.0 Q792.6,348.3 785.7,346.2" fill="none" stroke="#4a4a4a" stroke-width="1.15" stroke-linecap="round" stroke-linejoin="round"/>
<line x1="790.3" y1="312.3" x2="805.7" y2="295.0" stroke="#e23b3b" stroke-width="2.00"/>
<line x1="794.9" y1="316.4" x2="810.3" y2="299.1" stroke="#e23b3b" stroke-width="2.00"/>
<circle cx="790.6" cy="316.6" r="5.05" fill="url(#gR)"/>
<line x1="783.1" y1="305.1" x2="799.7" y2="289.1" stroke="#2f7030" stroke-width="1.50"/>
<line x1="787.3" y1="309.5" x2="804.0" y2="293.5" stroke="#2f7030" stroke-width="1.50"/>
<circle cx="783.0" cy="309.4" r="5.05" fill="url(#gG)"/>
<line x1="776.3" y1="297.4" x2="794.2" y2="282.7" stroke="#2c55a8" stroke-width="1.80"/>
<line x1="780.2" y1="302.1" x2="798.1" y2="287.4" stroke="#2c55a8" stroke-width="1.80"/>
<circle cx="775.9" cy="301.7" r="5.05" fill="url(#gB)"/>
<path d="M772.5,304.5 L778.9,315.7 L764.6,302.6 L775.5,319.6 L760.7,305.9 L771.7,322.7 L757.3,309.4 L763.2,320.1 Q764.2,324.7 758.0,321.1" fill="none" stroke="#4a4a4a" stroke-width="1.15" stroke-linecap="round" stroke-linejoin="round"/>
<line x1="770.4" y1="289.5" x2="789.3" y2="276.2" stroke="#2f7030" stroke-width="1.50"/>
<line x1="773.9" y1="294.5" x2="792.8" y2="281.1" stroke="#2f7030" stroke-width="1.50"/>
<circle cx="769.7" cy="293.8" r="5.05" fill="url(#gG)"/>
<line x1="765.1" y1="281.2" x2="784.9" y2="269.3" stroke="#e23b3b" stroke-width="2.00"/>
<line x1="768.2" y1="286.4" x2="788.1" y2="274.5" stroke="#e23b3b" stroke-width="2.00"/>
<circle cx="764.0" cy="285.4" r="5.05" fill="url(#gR)"/>
<line x1="760.3" y1="272.5" x2="781.0" y2="262.1" stroke="#8a5be0" stroke-width="1.80"/>
<line x1="763.1" y1="278.0" x2="783.8" y2="267.6" stroke="#8a5be0" stroke-width="1.80"/>
<circle cx="759.0" cy="276.6" r="5.05" fill="url(#gP)"/>
<path d="M755.1,278.6 L758.8,290.9 L747.8,275.0 L754.6,293.9 L743.2,277.3 L750.2,296.1 L739.1,280.0 L742.5,291.7 Q742.4,296.5 737.2,291.5" fill="none" stroke="#4a4a4a" stroke-width="1.15" stroke-linecap="round" stroke-linejoin="round"/>
<line x1="756.2" y1="262.9" x2="777.7" y2="254.2" stroke="#e23b3b" stroke-width="2.00"/>
<line x1="758.5" y1="268.6" x2="780.0" y2="259.8" stroke="#e23b3b" stroke-width="2.00"/>
<circle cx="754.6" cy="266.9" r="5.05" fill="url(#gR)"/>
<line x1="752.9" y1="253.0" x2="775.0" y2="246.0" stroke="#e23b3b" stroke-width="2.00"/>
<line x1="754.8" y1="258.8" x2="776.8" y2="251.8" stroke="#e23b3b" stroke-width="2.00"/>
<circle cx="750.9" cy="256.8" r="5.05" fill="url(#gR)"/>
<line x1="750.3" y1="242.9" x2="772.9" y2="237.6" stroke="#2f7030" stroke-width="1.50"/>
<line x1="751.7" y1="248.8" x2="774.3" y2="243.5" stroke="#2f7030" stroke-width="1.50"/>
<circle cx="748.1" cy="246.6" r="5.05" fill="url(#gG)"/>
<line x1="748.6" y1="232.6" x2="771.5" y2="229.1" stroke="#2c55a8" stroke-width="1.80"/>
<line x1="749.5" y1="238.6" x2="772.4" y2="235.1" stroke="#2c55a8" stroke-width="1.80"/>
<circle cx="746.1" cy="236.1" r="5.05" fill="url(#gB)"/>
<path d="M741.7,236.7 L738.7,231.4 L738.9,250.8 L733.5,231.4 L733.8,251.6 L728.6,232.2 L728.9,251.7 L724.9,240.2 Q722.1,236.4 720.7,243.5" fill="none" stroke="#4a4a4a" stroke-width="1.15" stroke-linecap="round" stroke-linejoin="round"/>
<line x1="747.5" y1="222.4" x2="770.6" y2="220.7" stroke="#e23b3b" stroke-width="2.00"/>
<line x1="747.9" y1="228.5" x2="771.0" y2="226.7" stroke="#e23b3b" stroke-width="2.00"/>
<circle cx="744.7" cy="225.7" r="5.05" fill="url(#gR)"/>
<line x1="747.1" y1="212.1" x2="770.3" y2="212.2" stroke="#2f7030" stroke-width="1.50"/>
<line x1="747.1" y1="218.2" x2="770.3" y2="218.3" stroke="#2f7030" stroke-width="1.50"/>
<circle cx="744.1" cy="215.1" r="5.05" fill="url(#gG)"/>
<line x1="747.6" y1="201.8" x2="770.7" y2="203.7" stroke="#e23b3b" stroke-width="2.00"/>
<line x1="747.1" y1="207.9" x2="770.2" y2="209.7" stroke="#e23b3b" stroke-width="2.00"/>
<circle cx="744.3" cy="204.6" r="5.05" fill="url(#gR)"/>
<line x1="748.9" y1="191.6" x2="771.7" y2="195.2" stroke="#8a5be0" stroke-width="1.80"/>
<line x1="747.9" y1="197.6" x2="770.8" y2="201.2" stroke="#8a5be0" stroke-width="1.80"/>
<circle cx="745.4" cy="194.1" r="5.05" fill="url(#gP)"/>
<path d="M741.0,193.4 L736.9,205.6 L737.2,186.2 L731.7,205.6 L732.1,185.4 L726.8,204.8 L727.2,185.2 L723.1,196.8 Q720.3,200.6 719.0,193.5" fill="none" stroke="#4a4a4a" stroke-width="1.15" stroke-linecap="round" stroke-linejoin="round"/>
<line x1="751.3" y1="180.8" x2="773.9" y2="186.3" stroke="#e23b3b" stroke-width="2.00"/>
<line x1="749.9" y1="186.7" x2="772.4" y2="192.2" stroke="#e23b3b" stroke-width="2.00"/>
<circle cx="747.7" cy="183.0" r="5.05" fill="url(#gR)"/>
<line x1="754.7" y1="170.3" x2="776.7" y2="177.6" stroke="#2f7030" stroke-width="1.50"/>
<line x1="752.8" y1="176.1" x2="774.8" y2="183.4" stroke="#2f7030" stroke-width="1.50"/>
<circle cx="750.9" cy="172.2" r="5.05" fill="url(#gG)"/>
<line x1="758.9" y1="160.1" x2="780.2" y2="169.2" stroke="#2c55a8" stroke-width="1.80"/>
<line x1="756.5" y1="165.7" x2="777.8" y2="174.8" stroke="#2c55a8" stroke-width="1.80"/>
<circle cx="754.9" cy="161.7" r="5.05" fill="url(#gB)"/>
<path d="M750.9,160.0 L743.9,170.8 L749.0,152.0 L738.8,169.5 L744.2,150.0 L734.3,167.5 L739.5,148.6 L732.7,158.8 Q729.1,161.8 729.5,154.6" fill="none" stroke="#4a4a4a" stroke-width="1.15" stroke-linecap="round" stroke-linejoin="round"/>
<line x1="763.4" y1="150.8" x2="783.9" y2="161.6" stroke="#2f7030" stroke-width="1.50"/>
<line x1="760.6" y1="156.2" x2="781.1" y2="167.0" stroke="#2f7030" stroke-width="1.50"/>
<circle cx="759.3" cy="152.1" r="5.05" fill="url(#gG)"/>
<line x1="768.6" y1="142.0" x2="788.2" y2="154.2" stroke="#e23b3b" stroke-width="2.00"/>
<line x1="765.3" y1="147.1" x2="785.0" y2="159.4" stroke="#e23b3b" stroke-width="2.00"/>
<circle cx="764.4" cy="142.9" r="5.05" fill="url(#gR)"/>
<line x1="774.4" y1="133.5" x2="793.1" y2="147.2" stroke="#2f7030" stroke-width="1.50"/>
<line x1="770.8" y1="138.4" x2="789.4" y2="152.2" stroke="#2f7030" stroke-width="1.50"/>
<circle cx="770.2" cy="134.2" r="5.05" fill="url(#gG)"/>
<line x1="780.9" y1="125.5" x2="798.4" y2="140.6" stroke="#e23b3b" stroke-width="2.00"/>
<line x1="776.9" y1="130.1" x2="794.5" y2="145.3" stroke="#e23b3b" stroke-width="2.00"/>
<circle cx="776.6" cy="125.8" r="5.05" fill="url(#gR)"/>
<line x1="788.0" y1="118.0" x2="804.3" y2="134.4" stroke="#2c55a8" stroke-width="1.80"/>
<line x1="783.7" y1="122.3" x2="800.0" y2="138.7" stroke="#2c55a8" stroke-width="1.80"/>
<circle cx="783.7" cy="118.0" r="5.05" fill="url(#gB)"/>
<path d="M780.6,114.9 L783.1,109.3 L767.6,120.9 L780.0,105.1 L763.9,117.3 L776.6,101.6 L760.9,113.4 L767.9,103.3 Q769.3,98.8 762.7,101.9" fill="none" stroke="#4a4a4a" stroke-width="1.15" stroke-linecap="round" stroke-linejoin="round"/>
<line x1="795.8" y1="111.4" x2="810.8" y2="129.0" stroke="#2f7030" stroke-width="1.50"/>
<line x1="791.2" y1="115.4" x2="806.2" y2="133.0" stroke="#2f7030" stroke-width="1.50"/>
<circle cx="791.5" cy="111.1" r="5.05" fill="url(#gG)"/>
<line x1="804.1" y1="105.4" x2="817.7" y2="124.1" stroke="#e23b3b" stroke-width="2.00"/>
<line x1="799.2" y1="109.0" x2="812.8" y2="127.7" stroke="#e23b3b" stroke-width="2.00"/>
<circle cx="799.8" cy="104.8" r="5.05" fill="url(#gR)"/>
<line x1="812.8" y1="100.1" x2="825.0" y2="119.8" stroke="#2f7030" stroke-width="1.50"/>
<line x1="807.6" y1="103.3" x2="819.8" y2="123.0" stroke="#2f7030" stroke-width="1.50"/>
<circle cx="808.6" cy="99.1" r="5.05" fill="url(#gG)"/>
<line x1="821.9" y1="95.4" x2="832.5" y2="116.0" stroke="#e23b3b" stroke-width="2.00"/>
<line x1="816.5" y1="98.2" x2="827.1" y2="118.8" stroke="#e23b3b" stroke-width="2.00"/>
<circle cx="817.8" cy="94.2" r="5.05" fill="url(#gR)"/>
<line x1="831.3" y1="91.5" x2="840.3" y2="112.8" stroke="#2f7030" stroke-width="1.50"/>
<line x1="825.7" y1="93.9" x2="834.7" y2="115.2" stroke="#2f7030" stroke-width="1.50"/>
<circle cx="827.3" cy="89.9" r="5.05" fill="url(#gG)"/>
<line x1="840.9" y1="88.3" x2="848.3" y2="110.3" stroke="#8a5be0" stroke-width="1.80"/>
<line x1="835.1" y1="90.3" x2="842.5" y2="112.2" stroke="#8a5be0" stroke-width="1.80"/>
<circle cx="837.1" cy="86.4" r="5.05" fill="url(#gP)"/>
<path d="M835.7,82.2 L840.4,78.3 L821.3,81.9 L839.5,73.2 L819.7,77.0 L837.9,68.6 L818.7,72.2 L829.3,66.3 Q832.6,62.8 825.4,62.7" fill="none" stroke="#4a4a4a" stroke-width="1.15" stroke-linecap="round" stroke-linejoin="round"/>
<line x1="850.8" y1="85.7" x2="856.4" y2="108.1" stroke="#e23b3b" stroke-width="2.00"/>
<line x1="844.8" y1="87.2" x2="850.5" y2="109.6" stroke="#e23b3b" stroke-width="2.00"/>
<circle cx="847.1" cy="83.5" r="5.05" fill="url(#gR)"/>
<line x1="860.8" y1="83.8" x2="864.7" y2="106.6" stroke="#e23b3b" stroke-width="2.00"/>
<line x1="854.8" y1="84.8" x2="858.7" y2="107.6" stroke="#e23b3b" stroke-width="2.00"/>
<circle cx="857.3" cy="81.3" r="5.05" fill="url(#gR)"/>
<line x1="870.9" y1="82.6" x2="873.1" y2="105.7" stroke="#2f7030" stroke-width="1.50"/>
<line x1="864.8" y1="83.2" x2="867.0" y2="106.3" stroke="#2f7030" stroke-width="1.50"/>
<circle cx="867.6" cy="79.9" r="5.05" fill="url(#gG)"/>
<ellipse cx="0" cy="0" rx="5.6" ry="2.5" fill="url(#gE)" stroke="#858585" stroke-width="0.5" transform="translate(892.9,87.1) rotate(92.0)"/>
<ellipse cx="0" cy="0" rx="5.6" ry="2.5" fill="url(#gE)" stroke="#858585" stroke-width="0.5" transform="translate(930.4,96.9) rotate(105.8)"/>
<ellipse cx="0" cy="0" rx="5.6" ry="2.5" fill="url(#gE)" stroke="#858585" stroke-width="0.5" transform="translate(977.8,127.0) rotate(140.7)"/>
<ellipse cx="0" cy="0" rx="5.6" ry="2.5" fill="url(#gE)" stroke="#858585" stroke-width="0.5" transform="translate(994.3,150.6) rotate(141.8)"/>
<ellipse cx="0" cy="0" rx="5.6" ry="2.5" fill="url(#gE)" stroke="#858585" stroke-width="0.5" transform="translate(1007.5,195.9) rotate(172.0)"/>
<ellipse cx="0" cy="0" rx="5.6" ry="2.5" fill="url(#gE)" stroke="#858585" stroke-width="0.5" transform="translate(1006.6,235.8) rotate(186.5)"/>
<ellipse cx="0" cy="0" rx="5.6" ry="2.5" fill="url(#gE)" stroke="#858585" stroke-width="0.5" transform="translate(987.7,280.2) rotate(202.3)"/>
<ellipse cx="0" cy="0" rx="5.6" ry="2.5" fill="url(#gE)" stroke="#858585" stroke-width="0.5" transform="translate(956.8,318.3) rotate(233.6)"/>
<ellipse cx="0" cy="0" rx="5.6" ry="2.5" fill="url(#gE)" stroke="#858585" stroke-width="0.5" transform="translate(910.3,337.5) rotate(247.0)"/>
<ellipse cx="0" cy="0" rx="5.6" ry="2.5" fill="url(#gE)" stroke="#858585" stroke-width="0.5" transform="translate(871.3,339.4) rotate(272.9)"/>
<ellipse cx="0" cy="0" rx="5.6" ry="2.5" fill="url(#gE)" stroke="#858585" stroke-width="0.5" transform="translate(827.4,323.6) rotate(287.5)"/>
<ellipse cx="0" cy="0" rx="5.6" ry="2.5" fill="url(#gE)" stroke="#858585" stroke-width="0.5" transform="translate(791.9,294.5) rotate(310.1)"/>
<ellipse cx="0" cy="0" rx="5.6" ry="2.5" fill="url(#gE)" stroke="#858585" stroke-width="0.5" transform="translate(758.6,249.2) rotate(343.0)"/>
<ellipse cx="0" cy="0" rx="5.6" ry="2.5" fill="url(#gE)" stroke="#858585" stroke-width="0.5" transform="translate(765.8,182.4) rotate(382.6)"/>
<ellipse cx="0" cy="0" rx="5.6" ry="2.5" fill="url(#gE)" stroke="#858585" stroke-width="0.5" transform="translate(775.9,155.6) rotate(382.3)"/>
<ellipse cx="0" cy="0" rx="5.6" ry="2.5" fill="url(#gE)" stroke="#858585" stroke-width="0.5" transform="translate(799.1,112.2) rotate(406.2)"/>
<ellipse cx="0" cy="0" rx="5.6" ry="2.5" fill="url(#gE)" stroke="#858585" stroke-width="0.5" transform="translate(843.1,91.8) rotate(435.7)"/>
<line x1="801.9" y1="168.4" x2="803.1" y2="149.9" stroke="#ef6a6a" stroke-width="2.10"/>
<line x1="807.0" y1="168.7" x2="808.2" y2="150.3" stroke="#ef6a6a" stroke-width="2.10"/>
<circle cx="804.2" cy="171.0" r="4.2" fill="url(#gR)"/>
<line x1="811.6" y1="169.0" x2="812.8" y2="150.6" stroke="#5d9657" stroke-width="1.55"/>
<line x1="816.2" y1="169.3" x2="817.4" y2="150.9" stroke="#5d9657" stroke-width="1.55"/>
<circle cx="813.7" cy="171.7" r="4.2" fill="url(#gG)"/>
<line x1="821.0" y1="169.6" x2="822.2" y2="151.2" stroke="#5d9657" stroke-width="1.55"/>
<line x1="825.6" y1="169.9" x2="826.8" y2="151.5" stroke="#5d9657" stroke-width="1.55"/>
<circle cx="823.1" cy="172.3" r="4.2" fill="url(#gG)"/>
<line x1="830.2" y1="170.2" x2="831.4" y2="151.8" stroke="#ef6a6a" stroke-width="2.10"/>
<line x1="835.3" y1="170.6" x2="836.5" y2="152.1" stroke="#ef6a6a" stroke-width="2.10"/>
<circle cx="832.6" cy="172.9" r="4.2" fill="url(#gR)"/>
<line x1="839.9" y1="170.9" x2="841.1" y2="152.4" stroke="#5d9657" stroke-width="1.55"/>
<line x1="844.5" y1="171.2" x2="845.7" y2="152.7" stroke="#5d9657" stroke-width="1.55"/>
<circle cx="842.0" cy="173.5" r="4.2" fill="url(#gG)"/>
<line x1="849.3" y1="171.5" x2="850.6" y2="153.1" stroke="#5d9657" stroke-width="1.55"/>
<line x1="853.9" y1="171.8" x2="855.2" y2="153.4" stroke="#5d9657" stroke-width="1.55"/>
<circle cx="851.5" cy="174.2" r="4.2" fill="url(#gG)"/>
<line x1="858.5" y1="172.1" x2="859.8" y2="153.7" stroke="#ef6a6a" stroke-width="2.10"/>
<line x1="863.6" y1="172.5" x2="864.8" y2="154.0" stroke="#ef6a6a" stroke-width="2.10"/>
<circle cx="860.9" cy="174.8" r="4.2" fill="url(#gR)"/>
<line x1="868.2" y1="172.8" x2="869.5" y2="154.3" stroke="#5d9657" stroke-width="1.55"/>
<line x1="872.8" y1="173.1" x2="874.0" y2="154.6" stroke="#5d9657" stroke-width="1.55"/>
<circle cx="870.4" cy="175.4" r="4.2" fill="url(#gG)"/>
<line x1="877.7" y1="173.4" x2="878.9" y2="154.9" stroke="#5d9657" stroke-width="1.55"/>
<line x1="882.3" y1="173.7" x2="883.5" y2="155.3" stroke="#5d9657" stroke-width="1.55"/>
<circle cx="879.8" cy="176.1" r="4.2" fill="url(#gG)"/>
<line x1="886.9" y1="173.9" x2="888.7" y2="155.5" stroke="#ef6a6a" stroke-width="2.10"/>
<line x1="892.0" y1="174.4" x2="893.8" y2="156.0" stroke="#ef6a6a" stroke-width="2.10"/>
<circle cx="889.2" cy="176.7" r="4.2" fill="url(#gR)"/>
<line x1="897.7" y1="176.9" x2="909.4" y2="162.6" stroke="#5d9657" stroke-width="1.55"/>
<line x1="901.2" y1="179.8" x2="913.0" y2="165.5" stroke="#5d9657" stroke-width="1.55"/>
<circle cx="897.9" cy="180.3" r="4.2" fill="url(#gG)"/>
<line x1="904.8" y1="185.1" x2="922.5" y2="179.8" stroke="#5d9657" stroke-width="1.55"/>
<line x1="906.1" y1="189.5" x2="923.8" y2="184.2" stroke="#5d9657" stroke-width="1.55"/>
<circle cx="903.0" cy="188.0" r="4.2" fill="url(#gG)"/>
<line x1="906.1" y1="195.3" x2="924.5" y2="196.5" stroke="#5d9657" stroke-width="1.55"/>
<line x1="905.8" y1="199.9" x2="924.2" y2="201.1" stroke="#5d9657" stroke-width="1.55"/>
<circle cx="903.4" cy="197.4" r="4.2" fill="url(#gG)"/>
<line x1="904.3" y1="205.8" x2="920.1" y2="215.4" stroke="#5d9657" stroke-width="1.55"/>
<line x1="901.9" y1="209.7" x2="917.7" y2="219.4" stroke="#5d9657" stroke-width="1.55"/>
<circle cx="901.0" cy="206.4" r="4.2" fill="url(#gG)"/>
<line x1="897.4" y1="213.9" x2="905.1" y2="230.7" stroke="#ef6a6a" stroke-width="2.10"/>
<line x1="892.7" y1="216.0" x2="900.4" y2="232.8" stroke="#ef6a6a" stroke-width="2.10"/>
<circle cx="894.0" cy="212.6" r="4.2" fill="url(#gR)"/>
<line x1="886.9" y1="216.6" x2="885.7" y2="235.1" stroke="#5d9657" stroke-width="1.55"/>
<line x1="882.3" y1="216.3" x2="881.1" y2="234.8" stroke="#5d9657" stroke-width="1.55"/>
<circle cx="884.8" cy="214.0" r="4.2" fill="url(#gG)"/>
<line x1="877.4" y1="216.0" x2="876.2" y2="234.4" stroke="#5d9657" stroke-width="1.55"/>
<line x1="872.8" y1="215.7" x2="871.6" y2="234.1" stroke="#5d9657" stroke-width="1.55"/>
<circle cx="875.3" cy="213.3" r="4.2" fill="url(#gG)"/>
<line x1="868.0" y1="215.4" x2="866.8" y2="233.8" stroke="#5d9657" stroke-width="1.55"/>
<line x1="863.4" y1="215.1" x2="862.2" y2="233.5" stroke="#5d9657" stroke-width="1.55"/>
<circle cx="865.9" cy="212.7" r="4.2" fill="url(#gG)"/>
<line x1="858.8" y1="214.8" x2="857.6" y2="233.2" stroke="#ef6a6a" stroke-width="2.10"/>
<line x1="853.7" y1="214.4" x2="852.5" y2="232.9" stroke="#ef6a6a" stroke-width="2.10"/>
<circle cx="856.4" cy="212.1" r="4.2" fill="url(#gR)"/>
<line x1="849.1" y1="214.1" x2="847.9" y2="232.6" stroke="#5d9657" stroke-width="1.55"/>
<line x1="844.5" y1="213.8" x2="843.3" y2="232.3" stroke="#5d9657" stroke-width="1.55"/>
<circle cx="847.0" cy="211.5" r="4.2" fill="url(#gG)"/>
<line x1="839.7" y1="213.5" x2="838.4" y2="231.9" stroke="#5d9657" stroke-width="1.55"/>
<line x1="835.1" y1="213.2" x2="833.8" y2="231.6" stroke="#5d9657" stroke-width="1.55"/>
<circle cx="837.5" cy="210.8" r="4.2" fill="url(#gG)"/>
<line x1="830.2" y1="212.9" x2="829.0" y2="231.3" stroke="#5d9657" stroke-width="1.55"/>
<line x1="825.6" y1="212.6" x2="824.4" y2="231.0" stroke="#5d9657" stroke-width="1.55"/>
<circle cx="828.1" cy="210.2" r="4.2" fill="url(#gG)"/>
<line x1="821.0" y1="212.3" x2="819.8" y2="230.7" stroke="#ef6a6a" stroke-width="2.10"/>
<line x1="815.9" y1="211.9" x2="814.7" y2="230.4" stroke="#ef6a6a" stroke-width="2.10"/>
<circle cx="818.6" cy="209.6" r="4.2" fill="url(#gR)"/>
<line x1="811.3" y1="211.6" x2="810.1" y2="230.1" stroke="#5d9657" stroke-width="1.55"/>
<line x1="806.7" y1="211.3" x2="805.5" y2="229.7" stroke="#5d9657" stroke-width="1.55"/>
<circle cx="809.2" cy="208.9" r="4.2" fill="url(#gG)"/>
<line x1="801.8" y1="211.0" x2="800.0" y2="229.4" stroke="#5d9657" stroke-width="1.55"/>
<line x1="797.2" y1="210.6" x2="795.4" y2="229.0" stroke="#5d9657" stroke-width="1.55"/>
<circle cx="799.8" cy="208.3" r="4.2" fill="url(#gG)"/>
<line x1="791.3" y1="208.1" x2="779.6" y2="222.4" stroke="#5d9657" stroke-width="1.55"/>
<line x1="787.8" y1="205.2" x2="776.0" y2="219.5" stroke="#5d9657" stroke-width="1.55"/>
<circle cx="791.1" cy="204.7" r="4.2" fill="url(#gG)"/>
<line x1="784.2" y1="199.9" x2="766.5" y2="205.2" stroke="#5d9657" stroke-width="1.55"/>
<line x1="782.9" y1="195.5" x2="765.2" y2="200.8" stroke="#5d9657" stroke-width="1.55"/>
<circle cx="786.0" cy="197.0" r="4.2" fill="url(#gG)"/>
<line x1="782.9" y1="190.0" x2="764.5" y2="188.7" stroke="#ef6a6a" stroke-width="2.10"/>
<line x1="783.3" y1="184.9" x2="764.8" y2="183.6" stroke="#ef6a6a" stroke-width="2.10"/>
<circle cx="785.6" cy="187.6" r="4.2" fill="url(#gR)"/>
<line x1="784.7" y1="179.2" x2="768.9" y2="169.6" stroke="#5d9657" stroke-width="1.55"/>
<line x1="787.1" y1="175.3" x2="771.3" y2="165.6" stroke="#5d9657" stroke-width="1.55"/>
<circle cx="788.0" cy="178.6" r="4.2" fill="url(#gG)"/>
<line x1="791.9" y1="171.0" x2="784.1" y2="154.2" stroke="#5d9657" stroke-width="1.55"/>
<line x1="796.0" y1="169.1" x2="788.3" y2="152.3" stroke="#5d9657" stroke-width="1.55"/>
<circle cx="795.0" cy="172.4" r="4.2" fill="url(#gG)"/>
<line x1="849.0" y1="120.1" x2="848.6" y2="107.9" stroke="#ef6a6a" stroke-width="1.60"/>
<line x1="852.4" y1="120.0" x2="852.1" y2="107.8" stroke="#ef6a6a" stroke-width="1.60"/>
<circle cx="850.8" cy="121.9" r="3.0" fill="url(#gR)"/>
<line x1="856.1" y1="119.9" x2="855.7" y2="107.7" stroke="#5d9657" stroke-width="1.30"/>
<line x1="859.1" y1="119.8" x2="858.7" y2="107.6" stroke="#5d9657" stroke-width="1.30"/>
<circle cx="857.6" cy="121.6" r="3.0" fill="url(#gG)"/>
<line x1="863.0" y1="119.7" x2="862.6" y2="107.5" stroke="#5d9657" stroke-width="1.30"/>
<line x1="866.0" y1="119.6" x2="865.6" y2="107.4" stroke="#5d9657" stroke-width="1.30"/>
<circle cx="864.5" cy="121.4" r="3.0" fill="url(#gG)"/>
<line x1="869.6" y1="119.5" x2="869.2" y2="107.3" stroke="#ef6a6a" stroke-width="1.60"/>
<line x1="873.1" y1="119.4" x2="872.7" y2="107.2" stroke="#ef6a6a" stroke-width="1.60"/>
<circle cx="871.4" cy="121.2" r="3.0" fill="url(#gR)"/>
<line x1="876.7" y1="119.2" x2="876.3" y2="107.0" stroke="#5d9657" stroke-width="1.30"/>
<line x1="879.7" y1="119.1" x2="879.3" y2="107.0" stroke="#5d9657" stroke-width="1.30"/>
<circle cx="878.3" cy="121.0" r="3.0" fill="url(#gG)"/>
<line x1="883.6" y1="119.0" x2="883.2" y2="106.8" stroke="#5d9657" stroke-width="1.30"/>
<line x1="886.6" y1="118.9" x2="886.2" y2="106.7" stroke="#5d9657" stroke-width="1.30"/>
<circle cx="885.2" cy="120.8" r="3.0" fill="url(#gG)"/>
<line x1="890.2" y1="118.8" x2="889.9" y2="106.6" stroke="#ef6a6a" stroke-width="1.60"/>
<line x1="893.7" y1="118.7" x2="893.4" y2="106.5" stroke="#ef6a6a" stroke-width="1.60"/>
<circle cx="892.0" cy="120.6" r="3.0" fill="url(#gR)"/>
<line x1="897.4" y1="118.6" x2="897.0" y2="106.4" stroke="#5d9657" stroke-width="1.30"/>
<line x1="900.4" y1="118.5" x2="900.0" y2="106.3" stroke="#5d9657" stroke-width="1.30"/>
<circle cx="898.9" cy="120.3" r="3.0" fill="url(#gG)"/>
<line x1="904.3" y1="118.4" x2="903.9" y2="106.2" stroke="#5d9657" stroke-width="1.30"/>
<line x1="907.3" y1="118.3" x2="906.9" y2="106.1" stroke="#5d9657" stroke-width="1.30"/>
<circle cx="905.8" cy="120.1" r="3.0" fill="url(#gG)"/>
<line x1="910.9" y1="118.2" x2="910.5" y2="106.0" stroke="#ef6a6a" stroke-width="1.60"/>
<line x1="914.4" y1="118.1" x2="914.0" y2="105.9" stroke="#ef6a6a" stroke-width="1.60"/>
<circle cx="912.7" cy="119.9" r="3.0" fill="url(#gR)"/>
<line x1="918.9" y1="118.5" x2="924.2" y2="107.5" stroke="#5d9657" stroke-width="1.30"/>
<line x1="921.6" y1="119.8" x2="926.9" y2="108.8" stroke="#5d9657" stroke-width="1.30"/>
<circle cx="919.4" cy="120.7" r="3.0" fill="url(#gG)"/>
<line x1="925.1" y1="123.7" x2="936.6" y2="119.5" stroke="#5d9657" stroke-width="1.30"/>
<line x1="926.1" y1="126.5" x2="937.6" y2="122.3" stroke="#5d9657" stroke-width="1.30"/>
<circle cx="923.9" cy="125.7" r="3.0" fill="url(#gG)"/>
<line x1="926.4" y1="131.0" x2="938.5" y2="130.6" stroke="#5d9657" stroke-width="1.30"/>
<line x1="926.4" y1="134.0" x2="938.6" y2="133.6" stroke="#5d9657" stroke-width="1.30"/>
<circle cx="924.6" cy="132.6" r="3.0" fill="url(#gG)"/>
<line x1="926.7" y1="138.1" x2="938.8" y2="139.4" stroke="#5d9657" stroke-width="1.30"/>
<line x1="926.4" y1="141.1" x2="938.5" y2="142.3" stroke="#5d9657" stroke-width="1.30"/>
<circle cx="924.7" cy="139.4" r="3.0" fill="url(#gG)"/>
<line x1="924.1" y1="145.6" x2="932.0" y2="154.9" stroke="#ef6a6a" stroke-width="1.60"/>
<line x1="921.4" y1="147.9" x2="929.4" y2="157.2" stroke="#ef6a6a" stroke-width="1.60"/>
<circle cx="921.6" cy="145.4" r="3.0" fill="url(#gR)"/>
<line x1="916.8" y1="149.3" x2="917.2" y2="161.5" stroke="#5d9657" stroke-width="1.30"/>
<line x1="913.8" y1="149.4" x2="914.2" y2="161.6" stroke="#5d9657" stroke-width="1.30"/>
<circle cx="915.2" cy="147.5" r="3.0" fill="url(#gG)"/>
<line x1="909.9" y1="149.5" x2="910.3" y2="161.7" stroke="#5d9657" stroke-width="1.30"/>
<line x1="906.9" y1="149.6" x2="907.3" y2="161.8" stroke="#5d9657" stroke-width="1.30"/>
<circle cx="908.4" cy="147.8" r="3.0" fill="url(#gG)"/>
<line x1="903.0" y1="149.7" x2="903.4" y2="161.9" stroke="#5d9657" stroke-width="1.30"/>
<line x1="900.0" y1="149.8" x2="900.4" y2="162.0" stroke="#5d9657" stroke-width="1.30"/>
<circle cx="901.5" cy="148.0" r="3.0" fill="url(#gG)"/>
<line x1="896.4" y1="149.9" x2="896.8" y2="162.1" stroke="#ef6a6a" stroke-width="1.60"/>
<line x1="892.9" y1="150.0" x2="893.3" y2="162.2" stroke="#ef6a6a" stroke-width="1.60"/>
<circle cx="894.6" cy="148.2" r="3.0" fill="url(#gR)"/>
<line x1="889.3" y1="150.2" x2="889.7" y2="162.4" stroke="#5d9657" stroke-width="1.30"/>
<line x1="886.3" y1="150.3" x2="886.7" y2="162.4" stroke="#5d9657" stroke-width="1.30"/>
<circle cx="887.7" cy="148.4" r="3.0" fill="url(#gG)"/>
<line x1="882.4" y1="150.4" x2="882.8" y2="162.6" stroke="#5d9657" stroke-width="1.30"/>
<line x1="879.4" y1="150.5" x2="879.8" y2="162.7" stroke="#5d9657" stroke-width="1.30"/>
<circle cx="880.8" cy="148.6" r="3.0" fill="url(#gG)"/>
<line x1="875.5" y1="150.6" x2="875.9" y2="162.8" stroke="#5d9657" stroke-width="1.30"/>
<line x1="872.5" y1="150.7" x2="872.9" y2="162.9" stroke="#5d9657" stroke-width="1.30"/>
<circle cx="874.0" cy="148.8" r="3.0" fill="url(#gG)"/>
<line x1="868.9" y1="150.8" x2="869.3" y2="163.0" stroke="#ef6a6a" stroke-width="1.60"/>
<line x1="865.4" y1="150.9" x2="865.8" y2="163.1" stroke="#ef6a6a" stroke-width="1.60"/>
<circle cx="867.1" cy="149.1" r="3.0" fill="url(#gR)"/>
<line x1="861.7" y1="151.0" x2="862.1" y2="163.2" stroke="#5d9657" stroke-width="1.30"/>
<line x1="858.7" y1="151.1" x2="859.1" y2="163.3" stroke="#5d9657" stroke-width="1.30"/>
<circle cx="860.2" cy="149.3" r="3.0" fill="url(#gG)"/>
<line x1="854.9" y1="151.2" x2="855.2" y2="163.4" stroke="#5d9657" stroke-width="1.30"/>
<line x1="851.9" y1="151.3" x2="852.2" y2="163.5" stroke="#5d9657" stroke-width="1.30"/>
<circle cx="853.3" cy="149.5" r="3.0" fill="url(#gG)"/>
<line x1="847.1" y1="150.9" x2="841.8" y2="161.9" stroke="#5d9657" stroke-width="1.30"/>
<line x1="844.4" y1="149.6" x2="839.1" y2="160.6" stroke="#5d9657" stroke-width="1.30"/>
<circle cx="846.6" cy="148.7" r="3.0" fill="url(#gG)"/>
<line x1="840.9" y1="145.7" x2="829.4" y2="149.9" stroke="#5d9657" stroke-width="1.30"/>
<line x1="839.9" y1="142.9" x2="828.4" y2="147.1" stroke="#5d9657" stroke-width="1.30"/>
<circle cx="842.1" cy="143.7" r="3.0" fill="url(#gG)"/>
<line x1="839.7" y1="138.7" x2="827.5" y2="139.0" stroke="#ef6a6a" stroke-width="1.60"/>
<line x1="839.5" y1="135.2" x2="827.3" y2="135.5" stroke="#ef6a6a" stroke-width="1.60"/>
<circle cx="841.4" cy="136.8" r="3.0" fill="url(#gR)"/>
<line x1="839.3" y1="131.3" x2="827.2" y2="130.0" stroke="#5d9657" stroke-width="1.30"/>
<line x1="839.6" y1="128.3" x2="827.5" y2="127.1" stroke="#5d9657" stroke-width="1.30"/>
<circle cx="841.3" cy="130.0" r="3.0" fill="url(#gG)"/>
<line x1="842.1" y1="123.6" x2="834.2" y2="114.3" stroke="#5d9657" stroke-width="1.30"/>
<line x1="844.4" y1="121.7" x2="836.5" y2="112.4" stroke="#5d9657" stroke-width="1.30"/>
<circle cx="844.4" cy="124.0" r="3.0" fill="url(#gG)"/>
<line x1="904.9" y1="220.6" x2="897.9" y2="209.4" stroke="#5d9657" stroke-width="1.30"/>
<line x1="907.5" y1="219.0" x2="900.4" y2="207.8" stroke="#5d9657" stroke-width="1.30"/>
<circle cx="907.1" cy="221.3" r="2.95" fill="url(#gG)"/>
<line x1="910.3" y1="217.2" x2="903.3" y2="206.0" stroke="#5d9657" stroke-width="1.30"/>
<line x1="912.9" y1="215.6" x2="905.9" y2="204.4" stroke="#5d9657" stroke-width="1.30"/>
<circle cx="912.5" cy="217.9" r="2.95" fill="url(#gG)"/>
<line x1="915.5" y1="214.0" x2="908.5" y2="202.7" stroke="#ef6a6a" stroke-width="1.60"/>
<line x1="918.5" y1="212.1" x2="911.5" y2="200.9" stroke="#ef6a6a" stroke-width="1.60"/>
<circle cx="918.0" cy="214.5" r="2.95" fill="url(#gR)"/>
<line x1="921.2" y1="210.4" x2="914.2" y2="199.2" stroke="#5d9657" stroke-width="1.30"/>
<line x1="923.7" y1="208.9" x2="916.7" y2="197.6" stroke="#5d9657" stroke-width="1.30"/>
<circle cx="923.4" cy="211.1" r="2.95" fill="url(#gG)"/>
<line x1="926.6" y1="207.1" x2="919.6" y2="195.8" stroke="#5d9657" stroke-width="1.30"/>
<line x1="929.1" y1="205.5" x2="922.1" y2="194.2" stroke="#5d9657" stroke-width="1.30"/>
<circle cx="928.8" cy="207.8" r="2.95" fill="url(#gG)"/>
<line x1="931.8" y1="203.8" x2="924.8" y2="192.6" stroke="#ef6a6a" stroke-width="1.60"/>
<line x1="934.8" y1="201.9" x2="927.7" y2="190.7" stroke="#ef6a6a" stroke-width="1.60"/>
<circle cx="934.2" cy="204.4" r="2.95" fill="url(#gR)"/>
<line x1="937.4" y1="200.3" x2="930.4" y2="189.1" stroke="#5d9657" stroke-width="1.30"/>
<line x1="940.0" y1="198.7" x2="933.0" y2="187.5" stroke="#5d9657" stroke-width="1.30"/>
<circle cx="939.6" cy="201.0" r="2.95" fill="url(#gG)"/>
<line x1="942.8" y1="196.9" x2="935.8" y2="185.7" stroke="#5d9657" stroke-width="1.30"/>
<line x1="945.4" y1="195.3" x2="938.4" y2="184.1" stroke="#5d9657" stroke-width="1.30"/>
<circle cx="945.0" cy="197.6" r="2.95" fill="url(#gG)"/>
<line x1="948.0" y1="193.6" x2="941.0" y2="182.4" stroke="#ef6a6a" stroke-width="1.60"/>
<line x1="951.0" y1="191.8" x2="944.0" y2="180.6" stroke="#ef6a6a" stroke-width="1.60"/>
<circle cx="950.5" cy="194.2" r="2.95" fill="url(#gR)"/>
<line x1="954.8" y1="190.5" x2="953.6" y2="177.3" stroke="#5d9657" stroke-width="1.30"/>
<line x1="957.8" y1="190.2" x2="956.5" y2="177.0" stroke="#5d9657" stroke-width="1.30"/>
<circle cx="956.4" cy="192.1" r="2.95" fill="url(#gG)"/>
<line x1="962.0" y1="190.9" x2="967.1" y2="178.7" stroke="#5d9657" stroke-width="1.30"/>
<line x1="964.8" y1="192.0" x2="969.9" y2="179.9" stroke="#5d9657" stroke-width="1.30"/>
<circle cx="962.7" cy="193.1" r="2.95" fill="url(#gG)"/>
<line x1="968.2" y1="194.6" x2="978.5" y2="186.3" stroke="#5d9657" stroke-width="1.30"/>
<line x1="970.1" y1="196.9" x2="980.3" y2="188.6" stroke="#5d9657" stroke-width="1.30"/>
<circle cx="967.7" cy="196.9" r="2.95" fill="url(#gG)"/>
<line x1="972.0" y1="200.6" x2="984.8" y2="197.1" stroke="#5d9657" stroke-width="1.30"/>
<line x1="972.8" y1="203.5" x2="985.6" y2="200.0" stroke="#5d9657" stroke-width="1.30"/>
<circle cx="970.7" cy="202.5" r="2.95" fill="url(#gG)"/>
<line x1="972.9" y1="207.5" x2="985.8" y2="210.5" stroke="#ef6a6a" stroke-width="1.60"/>
<line x1="972.2" y1="210.9" x2="985.1" y2="213.9" stroke="#ef6a6a" stroke-width="1.60"/>
<circle cx="970.8" cy="208.8" r="2.95" fill="url(#gR)"/>
<line x1="970.3" y1="214.5" x2="980.2" y2="223.2" stroke="#5d9657" stroke-width="1.30"/>
<line x1="968.3" y1="216.8" x2="978.3" y2="225.5" stroke="#5d9657" stroke-width="1.30"/>
<circle cx="968.0" cy="214.5" r="2.95" fill="url(#gG)"/>
<line x1="965.1" y1="219.0" x2="972.1" y2="230.2" stroke="#5d9657" stroke-width="1.30"/>
<line x1="962.5" y1="220.6" x2="969.6" y2="231.8" stroke="#5d9657" stroke-width="1.30"/>
<circle cx="962.9" cy="218.3" r="2.95" fill="url(#gG)"/>
<line x1="959.7" y1="222.4" x2="966.7" y2="233.6" stroke="#5d9657" stroke-width="1.30"/>
<line x1="957.1" y1="224.0" x2="964.1" y2="235.2" stroke="#5d9657" stroke-width="1.30"/>
<circle cx="957.5" cy="221.7" r="2.95" fill="url(#gG)"/>
<line x1="954.5" y1="225.6" x2="961.5" y2="236.9" stroke="#ef6a6a" stroke-width="1.60"/>
<line x1="951.5" y1="227.5" x2="958.5" y2="238.7" stroke="#ef6a6a" stroke-width="1.60"/>
<circle cx="952.0" cy="225.1" r="2.95" fill="url(#gR)"/>
<line x1="948.8" y1="229.2" x2="955.8" y2="240.4" stroke="#5d9657" stroke-width="1.30"/>
<line x1="946.3" y1="230.7" x2="953.3" y2="242.0" stroke="#5d9657" stroke-width="1.30"/>
<circle cx="946.6" cy="228.5" r="2.95" fill="url(#gG)"/>
<line x1="943.4" y1="232.5" x2="950.4" y2="243.8" stroke="#5d9657" stroke-width="1.30"/>
<line x1="940.9" y1="234.1" x2="947.9" y2="245.4" stroke="#5d9657" stroke-width="1.30"/>
<circle cx="941.2" cy="231.8" r="2.95" fill="url(#gG)"/>
<line x1="938.0" y1="235.9" x2="945.0" y2="247.2" stroke="#5d9657" stroke-width="1.30"/>
<line x1="935.5" y1="237.5" x2="942.5" y2="248.7" stroke="#5d9657" stroke-width="1.30"/>
<circle cx="935.8" cy="235.2" r="2.95" fill="url(#gG)"/>
<line x1="932.8" y1="239.2" x2="939.8" y2="250.4" stroke="#ef6a6a" stroke-width="1.60"/>
<line x1="929.8" y1="241.0" x2="936.8" y2="252.3" stroke="#ef6a6a" stroke-width="1.60"/>
<circle cx="930.4" cy="238.6" r="2.95" fill="url(#gR)"/>
<line x1="927.2" y1="242.7" x2="934.2" y2="253.9" stroke="#5d9657" stroke-width="1.30"/>
<line x1="924.6" y1="244.3" x2="931.6" y2="255.5" stroke="#5d9657" stroke-width="1.30"/>
<circle cx="925.0" cy="242.0" r="2.95" fill="url(#gG)"/>
<line x1="921.7" y1="246.1" x2="928.8" y2="257.3" stroke="#5d9657" stroke-width="1.30"/>
<line x1="919.2" y1="247.7" x2="926.2" y2="258.9" stroke="#5d9657" stroke-width="1.30"/>
<circle cx="919.5" cy="245.4" r="2.95" fill="url(#gG)"/>
<line x1="915.2" y1="249.1" x2="916.4" y2="262.3" stroke="#5d9657" stroke-width="1.30"/>
<line x1="912.2" y1="249.4" x2="913.5" y2="262.6" stroke="#5d9657" stroke-width="1.30"/>
<circle cx="913.6" cy="247.5" r="2.95" fill="url(#gG)"/>
<line x1="908.0" y1="248.7" x2="902.9" y2="260.9" stroke="#5d9657" stroke-width="1.30"/>
<line x1="905.2" y1="247.6" x2="900.1" y2="259.7" stroke="#5d9657" stroke-width="1.30"/>
<circle cx="907.3" cy="246.5" r="2.95" fill="url(#gG)"/>
<line x1="902.0" y1="245.2" x2="891.7" y2="253.5" stroke="#ef6a6a" stroke-width="1.60"/>
<line x1="899.8" y1="242.5" x2="889.5" y2="250.8" stroke="#ef6a6a" stroke-width="1.60"/>
<circle cx="902.3" cy="242.7" r="2.95" fill="url(#gR)"/>
<line x1="898.0" y1="239.0" x2="885.2" y2="242.5" stroke="#5d9657" stroke-width="1.30"/>
<line x1="897.2" y1="236.1" x2="884.4" y2="239.6" stroke="#5d9657" stroke-width="1.30"/>
<circle cx="899.3" cy="237.1" r="2.95" fill="url(#gG)"/>
<line x1="897.1" y1="231.8" x2="884.2" y2="228.9" stroke="#5d9657" stroke-width="1.30"/>
<line x1="897.8" y1="228.9" x2="884.9" y2="226.0" stroke="#5d9657" stroke-width="1.30"/>
<circle cx="899.2" cy="230.8" r="2.95" fill="url(#gG)"/>
<line x1="899.7" y1="225.1" x2="889.8" y2="216.4" stroke="#5d9657" stroke-width="1.30"/>
<line x1="901.7" y1="222.8" x2="891.7" y2="214.1" stroke="#5d9657" stroke-width="1.30"/>
<circle cx="902.0" cy="225.1" r="2.95" fill="url(#gG)"/>
<line x1="848.7" y1="249.1" x2="855.3" y2="237.6" stroke="#5d9657" stroke-width="1.30"/>
<line x1="851.4" y1="250.6" x2="857.9" y2="239.1" stroke="#5d9657" stroke-width="1.30"/>
<circle cx="849.2" cy="251.4" r="2.95" fill="url(#gG)"/>
<line x1="854.5" y1="252.4" x2="861.0" y2="240.8" stroke="#5d9657" stroke-width="1.30"/>
<line x1="857.1" y1="253.8" x2="863.6" y2="242.3" stroke="#5d9657" stroke-width="1.30"/>
<circle cx="854.9" cy="254.6" r="2.95" fill="url(#gG)"/>
<line x1="860.0" y1="255.5" x2="866.5" y2="244.0" stroke="#ef6a6a" stroke-width="1.60"/>
<line x1="863.1" y1="257.2" x2="869.6" y2="245.7" stroke="#ef6a6a" stroke-width="1.60"/>
<circle cx="860.7" cy="257.9" r="2.95" fill="url(#gR)"/>
<line x1="866.0" y1="258.9" x2="872.5" y2="247.4" stroke="#5d9657" stroke-width="1.30"/>
<line x1="868.6" y1="260.3" x2="875.1" y2="248.8" stroke="#5d9657" stroke-width="1.30"/>
<circle cx="866.4" cy="261.1" r="2.95" fill="url(#gG)"/>
<line x1="871.8" y1="262.1" x2="878.3" y2="250.6" stroke="#5d9657" stroke-width="1.30"/>
<line x1="874.4" y1="263.6" x2="880.9" y2="252.1" stroke="#5d9657" stroke-width="1.30"/>
<circle cx="872.2" cy="264.4" r="2.95" fill="url(#gG)"/>
<line x1="877.3" y1="265.3" x2="883.8" y2="253.7" stroke="#ef6a6a" stroke-width="1.60"/>
<line x1="880.3" y1="267.0" x2="886.8" y2="255.5" stroke="#ef6a6a" stroke-width="1.60"/>
<circle cx="877.9" cy="267.7" r="2.95" fill="url(#gR)"/>
<line x1="883.3" y1="268.6" x2="889.8" y2="257.1" stroke="#5d9657" stroke-width="1.30"/>
<line x1="885.9" y1="270.1" x2="892.4" y2="258.6" stroke="#5d9657" stroke-width="1.30"/>
<circle cx="883.7" cy="270.9" r="2.95" fill="url(#gG)"/>
<line x1="889.0" y1="271.9" x2="895.5" y2="260.4" stroke="#5d9657" stroke-width="1.30"/>
<line x1="891.6" y1="273.4" x2="898.1" y2="261.8" stroke="#5d9657" stroke-width="1.30"/>
<circle cx="889.4" cy="274.2" r="2.95" fill="url(#gG)"/>
<line x1="894.6" y1="275.0" x2="901.1" y2="263.5" stroke="#ef6a6a" stroke-width="1.60"/>
<line x1="897.6" y1="276.8" x2="904.2" y2="265.3" stroke="#ef6a6a" stroke-width="1.60"/>
<circle cx="895.2" cy="277.4" r="2.95" fill="url(#gR)"/>
<line x1="900.6" y1="279.8" x2="911.9" y2="272.9" stroke="#5d9657" stroke-width="1.30"/>
<line x1="902.2" y1="282.4" x2="913.5" y2="275.5" stroke="#5d9657" stroke-width="1.30"/>
<circle cx="899.9" cy="282.0" r="2.95" fill="url(#gG)"/>
<line x1="903.5" y1="286.7" x2="916.7" y2="286.2" stroke="#5d9657" stroke-width="1.30"/>
<line x1="903.6" y1="289.7" x2="916.8" y2="289.2" stroke="#5d9657" stroke-width="1.30"/>
<circle cx="901.7" cy="288.3" r="2.95" fill="url(#gG)"/>
<line x1="902.6" y1="294.1" x2="914.3" y2="300.1" stroke="#5d9657" stroke-width="1.30"/>
<line x1="901.2" y1="296.8" x2="913.0" y2="302.8" stroke="#5d9657" stroke-width="1.30"/>
<circle cx="900.3" cy="294.6" r="2.95" fill="url(#gG)"/>
<line x1="899.1" y1="300.3" x2="909.0" y2="309.1" stroke="#5d9657" stroke-width="1.30"/>
<line x1="897.1" y1="302.5" x2="907.0" y2="311.3" stroke="#5d9657" stroke-width="1.30"/>
<circle cx="896.8" cy="300.2" r="2.95" fill="url(#gG)"/>
<line x1="893.6" y1="305.0" x2="898.0" y2="317.5" stroke="#ef6a6a" stroke-width="1.60"/>
<line x1="890.3" y1="306.1" x2="894.7" y2="318.6" stroke="#ef6a6a" stroke-width="1.60"/>
<circle cx="891.4" cy="303.9" r="2.95" fill="url(#gR)"/>
<line x1="886.0" y1="306.4" x2="883.7" y2="319.4" stroke="#5d9657" stroke-width="1.30"/>
<line x1="883.1" y1="305.9" x2="880.8" y2="318.9" stroke="#5d9657" stroke-width="1.30"/>
<circle cx="884.9" cy="304.4" r="2.95" fill="url(#gG)"/>
<line x1="879.3" y1="304.1" x2="872.7" y2="315.6" stroke="#5d9657" stroke-width="1.30"/>
<line x1="876.6" y1="302.6" x2="870.1" y2="314.1" stroke="#5d9657" stroke-width="1.30"/>
<circle cx="878.8" cy="301.8" r="2.95" fill="url(#gG)"/>
<line x1="873.5" y1="300.8" x2="867.0" y2="312.4" stroke="#5d9657" stroke-width="1.30"/>
<line x1="870.9" y1="299.4" x2="864.4" y2="310.9" stroke="#5d9657" stroke-width="1.30"/>
<circle cx="873.1" cy="298.6" r="2.95" fill="url(#gG)"/>
<line x1="868.0" y1="297.7" x2="861.5" y2="309.2" stroke="#ef6a6a" stroke-width="1.60"/>
<line x1="864.9" y1="296.0" x2="858.4" y2="307.5" stroke="#ef6a6a" stroke-width="1.60"/>
<circle cx="867.3" cy="295.3" r="2.95" fill="url(#gR)"/>
<line x1="862.0" y1="294.3" x2="855.5" y2="305.8" stroke="#5d9657" stroke-width="1.30"/>
<line x1="859.4" y1="292.9" x2="852.9" y2="304.4" stroke="#5d9657" stroke-width="1.30"/>
<circle cx="861.6" cy="292.1" r="2.95" fill="url(#gG)"/>
<line x1="856.2" y1="291.1" x2="849.7" y2="302.6" stroke="#5d9657" stroke-width="1.30"/>
<line x1="853.6" y1="289.6" x2="847.1" y2="301.1" stroke="#5d9657" stroke-width="1.30"/>
<circle cx="855.8" cy="288.8" r="2.95" fill="url(#gG)"/>
<line x1="850.5" y1="287.8" x2="844.0" y2="299.3" stroke="#5d9657" stroke-width="1.30"/>
<line x1="847.9" y1="286.3" x2="841.4" y2="297.9" stroke="#5d9657" stroke-width="1.30"/>
<circle cx="850.1" cy="285.5" r="2.95" fill="url(#gG)"/>
<line x1="845.0" y1="284.7" x2="838.4" y2="296.2" stroke="#ef6a6a" stroke-width="1.60"/>
<line x1="841.9" y1="283.0" x2="835.4" y2="294.5" stroke="#ef6a6a" stroke-width="1.60"/>
<circle cx="844.3" cy="282.3" r="2.95" fill="url(#gR)"/>
<line x1="839.0" y1="281.3" x2="832.5" y2="292.8" stroke="#5d9657" stroke-width="1.30"/>
<line x1="836.4" y1="279.8" x2="829.9" y2="291.4" stroke="#5d9657" stroke-width="1.30"/>
<circle cx="838.6" cy="279.0" r="2.95" fill="url(#gG)"/>
<line x1="833.2" y1="278.1" x2="826.7" y2="289.5" stroke="#5d9657" stroke-width="1.30"/>
<line x1="830.6" y1="276.6" x2="824.1" y2="288.1" stroke="#5d9657" stroke-width="1.30"/>
<circle cx="832.8" cy="275.8" r="2.95" fill="url(#gG)"/>
<line x1="827.4" y1="273.4" x2="816.1" y2="280.3" stroke="#5d9657" stroke-width="1.30"/>
<line x1="825.8" y1="270.8" x2="814.5" y2="277.7" stroke="#5d9657" stroke-width="1.30"/>
<circle cx="828.1" cy="271.2" r="2.95" fill="url(#gG)"/>
<line x1="824.5" y1="266.5" x2="811.3" y2="267.0" stroke="#5d9657" stroke-width="1.30"/>
<line x1="824.4" y1="263.5" x2="811.2" y2="264.0" stroke="#5d9657" stroke-width="1.30"/>
<circle cx="826.3" cy="264.9" r="2.95" fill="url(#gG)"/>
<line x1="825.3" y1="259.3" x2="813.5" y2="253.3" stroke="#ef6a6a" stroke-width="1.60"/>
<line x1="826.9" y1="256.2" x2="815.1" y2="250.2" stroke="#ef6a6a" stroke-width="1.60"/>
<circle cx="827.7" cy="258.6" r="2.95" fill="url(#gR)"/>
<line x1="828.9" y1="252.9" x2="819.0" y2="244.1" stroke="#5d9657" stroke-width="1.30"/>
<line x1="830.9" y1="250.7" x2="821.0" y2="241.9" stroke="#5d9657" stroke-width="1.30"/>
<circle cx="831.2" cy="253.0" r="2.95" fill="url(#gG)"/>
<line x1="834.6" y1="248.2" x2="830.3" y2="235.7" stroke="#5d9657" stroke-width="1.30"/>
<line x1="837.5" y1="247.2" x2="833.1" y2="234.7" stroke="#5d9657" stroke-width="1.30"/>
<circle cx="836.6" cy="249.3" r="2.95" fill="url(#gG)"/>
<line x1="841.7" y1="246.8" x2="844.0" y2="233.7" stroke="#ef6a6a" stroke-width="1.60"/>
<line x1="845.2" y1="247.4" x2="847.5" y2="234.3" stroke="#ef6a6a" stroke-width="1.60"/>
<circle cx="843.1" cy="248.8" r="2.95" fill="url(#gR)"/>
<line x1="937.1" y1="159.0" x2="925.0" y2="155.0" stroke="#5d9657" stroke-width="1.35"/>
<line x1="938.1" y1="156.0" x2="925.9" y2="152.1" stroke="#5d9657" stroke-width="1.35"/>
<circle cx="939.2" cy="158.0" r="2.9" fill="url(#gG)"/>
<line x1="941.4" y1="152.6" x2="936.9" y2="140.6" stroke="#5d9657" stroke-width="1.35"/>
<line x1="944.3" y1="151.5" x2="939.8" y2="139.5" stroke="#5d9657" stroke-width="1.35"/>
<circle cx="943.4" cy="153.6" r="2.9" fill="url(#gG)"/>
<line x1="948.9" y1="151.8" x2="955.4" y2="140.8" stroke="#ef6a6a" stroke-width="1.50"/>
<line x1="951.9" y1="153.6" x2="958.4" y2="142.6" stroke="#ef6a6a" stroke-width="1.50"/>
<circle cx="949.5" cy="154.2" r="2.9" fill="url(#gR)"/>
<line x1="954.4" y1="157.5" x2="967.0" y2="155.8" stroke="#5d9657" stroke-width="1.35"/>
<line x1="954.8" y1="160.6" x2="967.4" y2="158.8" stroke="#5d9657" stroke-width="1.35"/>
<circle cx="952.8" cy="159.3" r="2.9" fill="url(#gG)"/>
<line x1="953.3" y1="165.1" x2="962.5" y2="173.9" stroke="#5d9657" stroke-width="1.35"/>
<line x1="951.1" y1="167.4" x2="960.4" y2="176.2" stroke="#5d9657" stroke-width="1.35"/>
<circle cx="951.0" cy="165.0" r="2.9" fill="url(#gG)"/>
<line x1="946.7" y1="169.0" x2="945.5" y2="181.8" stroke="#5d9657" stroke-width="1.35"/>
<line x1="943.6" y1="168.8" x2="942.4" y2="181.5" stroke="#5d9657" stroke-width="1.35"/>
<circle cx="945.3" cy="167.2" r="2.9" fill="url(#gG)"/>
<line x1="939.6" y1="166.5" x2="928.9" y2="173.5" stroke="#ef6a6a" stroke-width="1.50"/>
<line x1="937.6" y1="163.6" x2="927.0" y2="170.6" stroke="#ef6a6a" stroke-width="1.50"/>
<circle cx="940.1" cy="164.1" r="2.9" fill="url(#gR)"/>
<line x1="940.8" y1="269.3" x2="930.4" y2="261.8" stroke="#5d9657" stroke-width="1.35"/>
<line x1="942.6" y1="266.8" x2="932.3" y2="259.3" stroke="#5d9657" stroke-width="1.35"/>
<circle cx="943.1" cy="269.1" r="2.9" fill="url(#gG)"/>
<line x1="947.0" y1="264.4" x2="946.4" y2="251.7" stroke="#5d9657" stroke-width="1.35"/>
<line x1="950.0" y1="264.3" x2="949.5" y2="251.6" stroke="#5d9657" stroke-width="1.35"/>
<circle cx="948.6" cy="266.1" r="2.9" fill="url(#gG)"/>
<line x1="954.5" y1="266.1" x2="964.1" y2="257.7" stroke="#ef6a6a" stroke-width="1.50"/>
<line x1="956.8" y1="268.7" x2="966.4" y2="260.3" stroke="#ef6a6a" stroke-width="1.50"/>
<circle cx="954.3" cy="268.6" r="2.9" fill="url(#gR)"/>
<line x1="958.0" y1="273.4" x2="970.5" y2="275.6" stroke="#5d9657" stroke-width="1.35"/>
<line x1="957.4" y1="276.4" x2="970.0" y2="278.7" stroke="#5d9657" stroke-width="1.35"/>
<circle cx="956.0" cy="274.6" r="2.9" fill="url(#gG)"/>
<line x1="954.5" y1="280.4" x2="960.5" y2="291.7" stroke="#5d9657" stroke-width="1.35"/>
<line x1="951.8" y1="281.9" x2="957.8" y2="293.1" stroke="#5d9657" stroke-width="1.35"/>
<circle cx="952.3" cy="279.6" r="2.9" fill="url(#gG)"/>
<line x1="946.8" y1="282.1" x2="941.8" y2="293.9" stroke="#5d9657" stroke-width="1.35"/>
<line x1="944.0" y1="280.9" x2="938.9" y2="292.6" stroke="#5d9657" stroke-width="1.35"/>
<circle cx="946.1" cy="279.9" r="2.9" fill="url(#gG)"/>
<line x1="940.7" y1="277.4" x2="928.4" y2="280.8" stroke="#ef6a6a" stroke-width="1.50"/>
<line x1="939.8" y1="274.0" x2="927.5" y2="277.4" stroke="#ef6a6a" stroke-width="1.50"/>
<circle cx="942.0" cy="275.2" r="2.9" fill="url(#gR)"/>
<line x1="782.5" y1="232.4" x2="770.4" y2="228.2" stroke="#5d9657" stroke-width="1.35"/>
<line x1="783.5" y1="229.5" x2="771.4" y2="225.3" stroke="#5d9657" stroke-width="1.35"/>
<circle cx="784.6" cy="231.5" r="2.9" fill="url(#gG)"/>
<line x1="787.1" y1="225.8" x2="782.8" y2="213.8" stroke="#5d9657" stroke-width="1.35"/>
<line x1="790.0" y1="224.8" x2="785.7" y2="212.7" stroke="#5d9657" stroke-width="1.35"/>
<circle cx="789.1" cy="226.9" r="2.9" fill="url(#gG)"/>
<line x1="794.9" y1="225.2" x2="801.7" y2="214.4" stroke="#ef6a6a" stroke-width="1.50"/>
<line x1="797.9" y1="227.1" x2="804.6" y2="216.2" stroke="#ef6a6a" stroke-width="1.50"/>
<circle cx="795.5" cy="227.6" r="2.9" fill="url(#gR)"/>
<line x1="800.5" y1="231.3" x2="813.2" y2="229.8" stroke="#5d9657" stroke-width="1.35"/>
<line x1="800.9" y1="234.4" x2="813.5" y2="232.9" stroke="#5d9657" stroke-width="1.35"/>
<circle cx="798.9" cy="233.0" r="2.9" fill="url(#gG)"/>
<line x1="799.2" y1="239.2" x2="808.3" y2="248.2" stroke="#5d9657" stroke-width="1.35"/>
<line x1="797.0" y1="241.4" x2="806.1" y2="250.4" stroke="#5d9657" stroke-width="1.35"/>
<circle cx="796.9" cy="239.1" r="2.9" fill="url(#gG)"/>
<line x1="792.2" y1="243.2" x2="790.8" y2="255.8" stroke="#5d9657" stroke-width="1.35"/>
<line x1="789.1" y1="242.8" x2="787.7" y2="255.5" stroke="#5d9657" stroke-width="1.35"/>
<circle cx="790.8" cy="241.3" r="2.9" fill="url(#gG)"/>
<line x1="784.8" y1="240.3" x2="774.1" y2="247.1" stroke="#ef6a6a" stroke-width="1.50"/>
<line x1="782.9" y1="237.3" x2="772.2" y2="244.2" stroke="#ef6a6a" stroke-width="1.50"/>
<circle cx="785.4" cy="237.9" r="2.9" fill="url(#gR)"/>
<linearGradient id="mB" gradientUnits="userSpaceOnUse" x1="806" y1="200" x2="878" y2="205"><stop offset="0" stop-color="#f6a0a0"/><stop offset="0.5" stop-color="#ea5a5e"/><stop offset="1" stop-color="#d9262c"/></linearGradient>
<linearGradient id="mC" gradientUnits="userSpaceOnUse" x1="906" y1="240" x2="968" y2="203"><stop offset="0" stop-color="#f6a0a0"/><stop offset="0.5" stop-color="#ea5a5e"/><stop offset="1" stop-color="#d9262c"/></linearGradient>
<linearGradient id="mD" gradientUnits="userSpaceOnUse" x1="834" y1="255" x2="896" y2="290"><stop offset="0" stop-color="#d9262c"/><stop offset="0.5" stop-color="#ea5a5e"/><stop offset="1" stop-color="#f6a0a0"/></linearGradient>
<path d="M850.1,145.0 C851.4,145.1 855.2,145.5 857.5,145.4 C859.9,145.3 862.6,145.7 864.3,144.6 C865.9,143.5 866.9,141.6 867.6,139.0 C868.3,136.3 868.1,131.0 868.7,128.9 C869.2,126.8 870.3,126.1 871.0,126.2 C871.6,126.3 872.3,127.6 872.7,129.6 C873.1,131.5 872.6,135.9 873.3,137.6 C873.9,139.3 875.2,140.0 876.3,139.6 C877.5,139.3 879.7,136.3 880.4,135.6 " fill="none" stroke="#2396b8" stroke-width="1.8" stroke-linecap="round"/>
<path d="M889.1,124.4 C889.9,124.5 892.6,124.4 893.8,124.8 C895.0,125.3 896.2,125.7 896.1,126.9 C896.0,128.0 894.5,130.2 893.1,131.6 C891.7,133.0 888.7,134.1 887.8,135.2 C886.8,136.2 886.8,137.5 887.5,137.9 C888.2,138.3 890.0,138.4 891.8,137.6 C893.6,136.8 896.6,134.4 898.5,133.3 C900.4,132.2 901.6,131.0 903.2,130.9 C904.8,130.8 906.4,131.7 907.9,132.9 C909.4,134.1 910.7,136.6 911.9,138.3 C913.2,139.9 914.7,142.0 915.3,142.7 " fill="none" stroke="#2396b8" stroke-width="1.8" stroke-linecap="round"/>
<path d="M795.7,196.5 C797.1,196.6 801.6,197.0 804.2,196.8 C806.7,196.6 809.5,196.7 811.1,195.3 C812.7,193.9 813.1,190.8 813.7,188.4 C814.3,185.9 814.0,182.4 814.6,180.7 C815.2,179.0 816.4,178.1 817.2,178.1 C818.0,178.1 819.0,179.0 819.5,180.7 C820.0,182.4 819.9,186.6 820.3,188.4 C820.7,190.2 820.8,191.7 821.8,191.4 C822.8,191.2 825.7,187.6 826.4,186.8 " fill="none" stroke="#2396b8" stroke-width="1.8" stroke-linecap="round"/>
<path d="M839.5,197.6 C840.6,197.5 844.5,197.3 846.4,196.8 C848.2,196.3 849.6,196.2 850.5,194.5 C851.4,192.9 851.4,189.1 851.8,186.8 C852.1,184.5 852.0,182.0 852.5,180.7 C853.0,179.4 854.1,178.7 854.8,178.9 C855.5,179.0 856.2,179.9 856.7,181.5 C857.1,183.1 857.1,186.7 857.6,188.4 C858.1,190.1 858.4,191.9 859.4,191.8 C860.5,191.6 863.3,188.3 864.0,187.6 " fill="none" stroke="#2396b8" stroke-width="1.8" stroke-linecap="round"/>
<path d="M870.2,181.5 C870.8,182.6 872.5,186.3 874.0,188.4 C875.6,190.5 877.2,193.3 879.4,194.1 C881.6,194.8 884.6,193.6 887.1,193.0 C889.5,192.3 892.2,190.5 894.0,190.2 C895.7,189.9 897.2,190.4 897.5,191.1 C897.8,191.9 897.0,193.4 895.5,194.5 C894.0,195.6 890.2,196.6 888.6,197.6 C887.0,198.6 886.0,199.7 885.8,200.7 C885.7,201.6 886.6,202.8 887.8,203.3 C889.1,203.8 892.3,203.7 893.2,203.7 " fill="none" stroke="#2396b8" stroke-width="1.8" stroke-linecap="round"/>
<path d="M806.5,202.7 C807.9,202.2 812.5,201.2 814.9,199.9 C817.3,198.6 819.0,196.0 821.1,194.8 C823.1,193.6 825.0,192.6 827.2,192.7 C829.4,192.8 831.8,194.0 834.1,195.3 C836.4,196.6 838.3,199.3 841.0,200.7 C843.7,202.0 847.3,203.4 850.2,203.3 C853.2,203.1 856.4,201.1 858.7,199.9 C861.0,198.6 862.2,196.6 864.0,195.7 C865.8,194.9 867.7,194.4 869.4,194.8 C871.2,195.3 873.1,196.5 874.5,198.4 C875.8,200.2 877.0,204.8 877.5,206.0 " fill="none" stroke="url(#mB)" stroke-width="2.3" stroke-linecap="round"/>
<path d="M906.1,240.6 C906.9,239.5 909.5,236.3 910.9,233.7 C912.3,231.1 912.8,227.4 914.4,225.1 C915.9,222.7 918.1,220.5 920.4,219.6 C922.7,218.6 925.6,219.4 928.2,219.6 C930.8,219.7 933.4,220.9 935.9,220.3 C938.5,219.6 941.8,217.7 943.7,215.6 C945.7,213.5 946.2,210.1 947.5,207.8 C948.8,205.5 949.8,203.2 951.5,201.8 C953.2,200.3 955.4,199.4 957.5,199.2 C959.6,199.0 962.4,199.6 964.1,200.6 C965.8,201.6 967.3,204.4 967.9,205.2 " fill="none" stroke="url(#mC)" stroke-width="2.3" stroke-linecap="round"/>
<path d="M834.2,255.2 C834.4,256.4 834.4,260.0 835.6,262.1 C836.7,264.2 838.7,266.7 841.1,267.8 C843.4,269.0 846.8,268.8 849.7,269.0 C852.6,269.2 856.0,268.2 858.4,269.0 C860.7,269.9 862.3,272.1 863.9,274.2 C865.5,276.4 866.0,279.6 867.9,282.0 C869.7,284.4 872.3,287.2 874.8,288.6 C877.2,289.9 880.1,290.2 882.5,290.3 C885.0,290.3 887.1,289.0 889.4,288.9 C891.8,288.8 895.2,289.6 896.4,289.8 " fill="none" stroke="url(#mD)" stroke-width="2.3" stroke-linecap="round"/>
<ellipse cx="0" cy="0" rx="5.6" ry="2.5" fill="url(#gE)" stroke="#858585" stroke-width="0.5" transform="translate(816.0,138.7) rotate(80.0)"/>
<ellipse cx="0" cy="0" rx="5.6" ry="2.5" fill="url(#gE)" stroke="#858585" stroke-width="0.5" transform="translate(823.4,155.3) rotate(85.0)"/>
<ellipse cx="0" cy="0" rx="5.6" ry="2.5" fill="url(#gE)" stroke="#858585" stroke-width="0.5" transform="translate(836.8,119.6) rotate(30.0)"/>
<ellipse cx="0" cy="0" rx="5.6" ry="2.5" fill="url(#gE)" stroke="#858585" stroke-width="0.5" transform="translate(950.1,142.6) rotate(-60.0)"/>
<ellipse cx="0" cy="0" rx="5.6" ry="2.5" fill="url(#gE)" stroke="#858585" stroke-width="0.5" transform="translate(923.4,153.4) rotate(30.0)"/>
<ellipse cx="0" cy="0" rx="5.6" ry="2.5" fill="url(#gE)" stroke="#858585" stroke-width="0.5" transform="translate(965.6,165.0) rotate(10.0)"/>
<ellipse cx="0" cy="0" rx="5.6" ry="2.5" fill="url(#gE)" stroke="#858585" stroke-width="0.5" transform="translate(924.1,172.5) rotate(-30.0)"/>
<ellipse cx="0" cy="0" rx="5.6" ry="2.5" fill="url(#gE)" stroke="#858585" stroke-width="0.5" transform="translate(938.6,177.2) rotate(-65.0)"/>
<ellipse cx="0" cy="0" rx="5.6" ry="2.5" fill="url(#gE)" stroke="#858585" stroke-width="0.5" transform="translate(899.2,166.8) rotate(80.0)"/>
<ellipse cx="0" cy="0" rx="5.6" ry="2.5" fill="url(#gE)" stroke="#858585" stroke-width="0.5" transform="translate(964.4,180.6) rotate(-70.0)"/>
<ellipse cx="0" cy="0" rx="5.6" ry="2.5" fill="url(#gE)" stroke="#858585" stroke-width="0.5" transform="translate(916.0,191.0) rotate(-75.0)"/>
<ellipse cx="0" cy="0" rx="5.6" ry="2.5" fill="url(#gE)" stroke="#858585" stroke-width="0.5" transform="translate(887.3,230.2) rotate(20.0)"/>
<ellipse cx="0" cy="0" rx="5.6" ry="2.5" fill="url(#gE)" stroke="#858585" stroke-width="0.5" transform="translate(978.2,215.7) rotate(10.0)"/>
<ellipse cx="0" cy="0" rx="5.6" ry="2.5" fill="url(#gE)" stroke="#858585" stroke-width="0.5" transform="translate(965.6,240.3) rotate(50.0)"/>
<ellipse cx="0" cy="0" rx="5.6" ry="2.5" fill="url(#gE)" stroke="#858585" stroke-width="0.5" transform="translate(923.4,257.8) rotate(70.0)"/>
<ellipse cx="0" cy="0" rx="5.6" ry="2.5" fill="url(#gE)" stroke="#858585" stroke-width="0.5" transform="translate(957.5,258.3) rotate(-50.0)"/>
<ellipse cx="0" cy="0" rx="5.6" ry="2.5" fill="url(#gE)" stroke="#858585" stroke-width="0.5" transform="translate(936.8,285.5) rotate(-45.0)"/>
<ellipse cx="0" cy="0" rx="5.6" ry="2.5" fill="url(#gE)" stroke="#858585" stroke-width="0.5" transform="translate(965.6,283.2) rotate(30.0)"/>
<ellipse cx="0" cy="0" rx="5.6" ry="2.5" fill="url(#gE)" stroke="#858585" stroke-width="0.5" transform="translate(911.5,284.8) rotate(-10.0)"/>
<ellipse cx="0" cy="0" rx="5.6" ry="2.5" fill="url(#gE)" stroke="#858585" stroke-width="0.5" transform="translate(854.0,224.9) rotate(85.0)"/>
<ellipse cx="0" cy="0" rx="5.6" ry="2.5" fill="url(#gE)" stroke="#858585" stroke-width="0.5" transform="translate(833.3,235.7) rotate(60.0)"/>
<ellipse cx="0" cy="0" rx="5.6" ry="2.5" fill="url(#gE)" stroke="#858585" stroke-width="0.5" transform="translate(861.0,236.4) rotate(-60.0)"/>
<ellipse cx="0" cy="0" rx="5.6" ry="2.5" fill="url(#gE)" stroke="#858585" stroke-width="0.5" transform="translate(809.2,238.0) rotate(10.0)"/>
<ellipse cx="0" cy="0" rx="5.6" ry="2.5" fill="url(#gE)" stroke="#858585" stroke-width="0.5" transform="translate(784.3,249.5) rotate(-70.0)"/>
<ellipse cx="0" cy="0" rx="5.6" ry="2.5" fill="url(#gE)" stroke="#858585" stroke-width="0.5" transform="translate(824.3,280.8) rotate(-30.0)"/>
<ellipse cx="0" cy="0" rx="5.6" ry="2.5" fill="url(#gE)" stroke="#858585" stroke-width="0.5" transform="translate(857.8,310.5) rotate(-72.0)"/>
<ellipse cx="0" cy="0" rx="5.6" ry="2.5" fill="url(#gE)" stroke="#858585" stroke-width="0.5" transform="translate(886.5,311.5) rotate(80.0)"/>
<ellipse cx="0" cy="0" rx="5.6" ry="2.5" fill="url(#gE)" stroke="#858585" stroke-width="0.5" transform="translate(927.1,303.7) rotate(65.0)"/>
</g>
</svg></body></html>
